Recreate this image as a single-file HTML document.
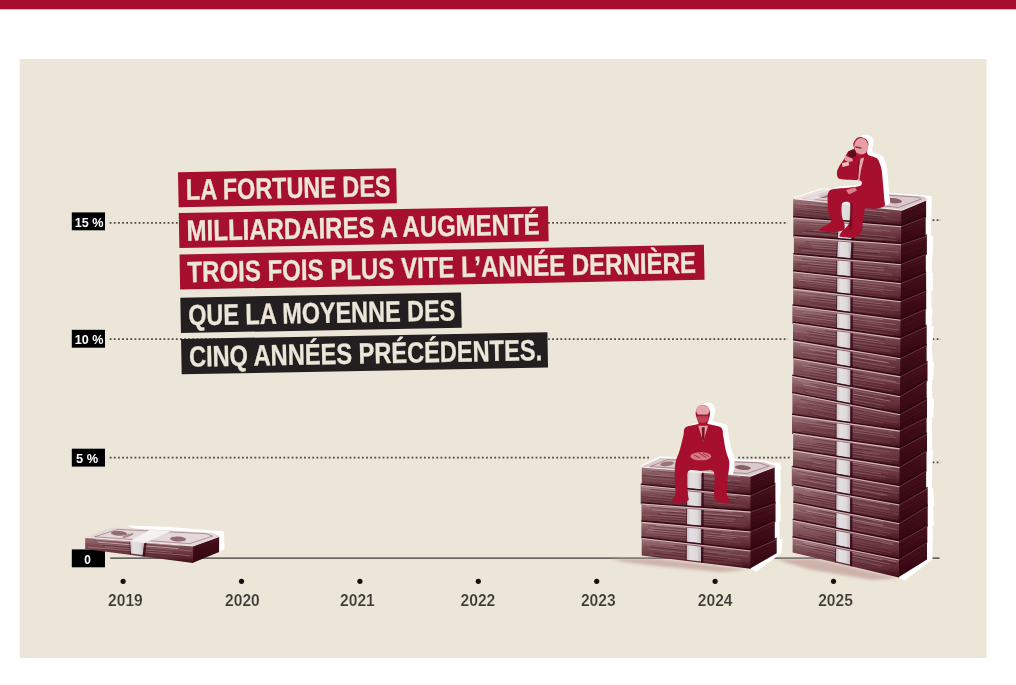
<!DOCTYPE html>
<html lang="fr"><head><meta charset="utf-8"><title>La fortune des milliardaires</title>
<style>html,body{margin:0;padding:0;background:#fff}svg{display:block}</style></head>
<body>
<svg width="1016" height="685" viewBox="0 0 1016 685" font-family="'Liberation Sans', Arial, sans-serif" font-weight="bold">
<defs>
<linearGradient id="gf" x1="0" y1="0" x2="0" y2="1"><stop offset="0" stop-color="#a17c80"/><stop offset="0.3" stop-color="#7e4e55"/><stop offset="0.75" stop-color="#612c36"/><stop offset="1" stop-color="#3a0a13"/></linearGradient>
<linearGradient id="gs" x1="0" y1="0" x2="0" y2="1"><stop offset="0" stop-color="#48111c"/><stop offset="0.35" stop-color="#3e0b16"/><stop offset="1" stop-color="#33060f"/></linearGradient>
<linearGradient id="gb" x1="0" y1="0" x2="1" y2="0"><stop offset="0" stop-color="#c9c2c6"/><stop offset="0.25" stop-color="#e3e0e2"/><stop offset="0.7" stop-color="#dedadc"/><stop offset="1" stop-color="#bdb4b9"/></linearGradient>
<clipPath id="c24"><polygon points="600,380 800,380 800,466 775.8,466.2 750.5,475.8 641,466.7 600,466"/></clipPath>
<clipPath id="c25"><polygon points="760,110 960,110 960,199 926.9,199.2 901.3,209.8 793.3,198.5 760,198"/></clipPath>
<filter id="blur" x="-20%" y="-50%" width="140%" height="200%"><feGaussianBlur stdDeviation="1.6"/></filter>
</defs>
<rect width="1016" height="685" fill="#fff"/>
<rect width="1016" height="9.3" fill="#A6102E"/>
<rect x="19.7" y="59" width="966.8" height="599" fill="#EBE6D7"/>
<line x1="109.7" y1="222.8" x2="788" y2="222.8" stroke="#4d4942" stroke-width="1.8" stroke-dasharray="1.8 2.335" stroke-dashoffset="0.00"/>
<line x1="930.3" y1="220.1" x2="941" y2="220.1" stroke="#4d4942" stroke-width="1.8" stroke-dasharray="1.8 2.335" stroke-dashoffset="1.87"/>
<line x1="109.7" y1="339.2" x2="788" y2="339.2" stroke="#4d4942" stroke-width="1.8" stroke-dasharray="1.8 2.335" stroke-dashoffset="0.00"/>
<line x1="930.3" y1="339.2" x2="941" y2="339.2" stroke="#4d4942" stroke-width="1.8" stroke-dasharray="1.8 2.335" stroke-dashoffset="1.87"/>
<line x1="109.7" y1="457.6" x2="649.5" y2="457.6" stroke="#4d4942" stroke-width="1.8" stroke-dasharray="1.8 2.335" stroke-dashoffset="0.00"/>
<line x1="736" y1="457.6" x2="790" y2="457.6" stroke="#4d4942" stroke-width="1.8" stroke-dasharray="1.8 2.335" stroke-dashoffset="1.91"/>
<line x1="930.3" y1="462.4" x2="941" y2="462.4" stroke="#4d4942" stroke-width="1.8" stroke-dasharray="1.8 2.335" stroke-dashoffset="1.87"/>
<line x1="110.2" y1="558.2" x2="939.5" y2="558.2" stroke="#3b3a37" stroke-width="1.3"/>
<rect x="71.8" y="212.4" width="33.2" height="17.9" fill="#000"/>
<text x="74.7" y="226.6" font-size="13.5" fill="#fff" textLength="28.8" lengthAdjust="spacingAndGlyphs">15 %</text>
<rect x="71.8" y="329.8" width="33.2" height="17.9" fill="#000"/>
<text x="74.7" y="344" font-size="13.5" fill="#fff" textLength="28.8" lengthAdjust="spacingAndGlyphs">10 %</text>
<rect x="71.8" y="448.7" width="33.2" height="17.9" fill="#000"/>
<text x="76" y="462.9" font-size="13.5" fill="#fff" textLength="22.1" lengthAdjust="spacingAndGlyphs">5 %</text>
<rect x="71.8" y="549.4" width="33.2" height="17.9" fill="#000"/>
<text x="84.3" y="563.6" font-size="13.5" fill="#fff" textLength="6.6" lengthAdjust="spacingAndGlyphs">0</text>
<circle cx="123.1" cy="581.3" r="2.6" fill="#111"/>
<text x="108.1" y="606.2" font-size="16.2" fill="#3b3a37" stroke="#EBE6D7" stroke-width="0.18" textLength="34.7" lengthAdjust="spacingAndGlyphs">2019</text>
<circle cx="241.5" cy="581.3" r="2.6" fill="#111"/>
<text x="225.1" y="606.2" font-size="16.2" fill="#3b3a37" stroke="#EBE6D7" stroke-width="0.18" textLength="34.7" lengthAdjust="spacingAndGlyphs">2020</text>
<circle cx="359.9" cy="581.3" r="2.6" fill="#111"/>
<text x="340.1" y="606.2" font-size="16.2" fill="#3b3a37" stroke="#EBE6D7" stroke-width="0.18" textLength="34.7" lengthAdjust="spacingAndGlyphs">2021</text>
<circle cx="478.3" cy="581.3" r="2.6" fill="#111"/>
<text x="460.6" y="606.2" font-size="16.2" fill="#3b3a37" stroke="#EBE6D7" stroke-width="0.18" textLength="34.7" lengthAdjust="spacingAndGlyphs">2022</text>
<circle cx="596.7" cy="581.3" r="2.6" fill="#111"/>
<text x="580.9" y="606.2" font-size="16.2" fill="#3b3a37" stroke="#EBE6D7" stroke-width="0.18" textLength="34.7" lengthAdjust="spacingAndGlyphs">2023</text>
<circle cx="715.1" cy="581.3" r="2.6" fill="#111"/>
<text x="697.8" y="606.2" font-size="16.2" fill="#3b3a37" stroke="#EBE6D7" stroke-width="0.18" textLength="34.7" lengthAdjust="spacingAndGlyphs">2024</text>
<circle cx="833.5" cy="581.3" r="2.6" fill="#111"/>
<text x="818.2" y="606.2" font-size="16.2" fill="#3b3a37" stroke="#EBE6D7" stroke-width="0.18" textLength="34.7" lengthAdjust="spacingAndGlyphs">2025</text>
<g transform="rotate(-1.05 178 172.2)">
<rect x="178" y="172.2" width="218.2" height="35.0" fill="#A6102E"/>
<text x="185.6" y="200" font-size="29.3" fill="#EBE6D7" stroke="#EBE6D7" stroke-width="0.35" textLength="204.6" lengthAdjust="spacingAndGlyphs">LA FORTUNE DES</text>
<rect x="178" y="213.1" width="369.3" height="35.0" fill="#A6102E"/>
<text x="185.6" y="240.9" font-size="29.3" fill="#EBE6D7" stroke="#EBE6D7" stroke-width="0.35" textLength="353" lengthAdjust="spacingAndGlyphs">MILLIARDAIRES A AUGMENTÉ</text>
<rect x="178" y="254.5" width="524.5" height="35.0" fill="#A6102E"/>
<text x="185.6" y="282.3" font-size="29.3" fill="#EBE6D7" stroke="#EBE6D7" stroke-width="0.35" textLength="508.6" lengthAdjust="spacingAndGlyphs">TROIS FOIS PLUS VITE L’ANNÉE DERNIÈRE</text>
<rect x="178" y="297.7" width="280.8" height="35.3" fill="#231F20"/>
<text x="185.6" y="325.5" font-size="29.3" fill="#EBE6D7" stroke="#EBE6D7" stroke-width="0.35" textLength="267" lengthAdjust="spacingAndGlyphs">QUE LA MOYENNE DES</text>
<rect x="178" y="339" width="366.4" height="35.3" fill="#231F20"/>
<text x="185.6" y="366.8" font-size="29.3" fill="#EBE6D7" stroke="#EBE6D7" stroke-width="0.35" textLength="353.2" lengthAdjust="spacingAndGlyphs">CINQ ANNÉES PRÉCÉDENTES.</text>
</g>
<polygon points="775,558.8 815,558.8 899,578.3 872,580 810,569.5 786,562.5" fill="#c6a6a0" opacity="0.8" filter="url(#blur)"/>
<polygon points="793,197.6 821.5,188.2 924.5,195.3 931.5,197 931.5,202 927,199.5 822,190.5 794,199.5" fill="#fff"/>
<polygon points="916.9,195.7 931.7,195.7 931.5,216.8 931.3,216.8 930.9,235.8 933.4,235.8 932.7,253.8 932.5,253.8 931.6,272.7 933,272.7 932.8,290.7 931.2,290.7 931.6,308.7 932.5,308.7 931.6,326.1 933.6,326.1 932.5,345.1 931.7,345.1 932.8,362.1 934.1,362.1 933.1,380.1 931.9,380.1 932.4,399.1 933.9,399.1 933.5,417.1 931.9,417.1 932.1,433.8 932.2,433.8 932.1,450.7 933.1,450.7 931.9,470.6 932.2,470.6 932,488.2 933.1,488.2 934.2,505.7 933,505.7 934,525.6 932.6,525.6 933.2,542 932.4,542 932.5,559.5 904.8,580.4 898.8,577.4 901.3,209.8" fill="#fff"/>
<polygon points="900.6,209.8 926.1,199.2 926.1,217.6 900.5,227.1" fill="url(#gs)"/>
<polygon points="793.2,198.5 901.3,209.8 901.2,227.1 793.2,218.3" fill="url(#gf)"/>
<line x1="810.6" y1="203.9" x2="886.3" y2="212.4" stroke="#f0d8d8" stroke-width="0.7" opacity="0.20"/>
<line x1="825.5" y1="206.6" x2="884.1" y2="212.7" stroke="#2f0610" stroke-width="0.7" opacity="0.37"/>
<line x1="796.4" y1="203.4" x2="889.2" y2="212.4" stroke="#f0d8d8" stroke-width="0.7" opacity="0.31"/>
<line x1="805.7" y1="205.5" x2="861.3" y2="211.3" stroke="#2f0610" stroke-width="0.7" opacity="0.26"/>
<line x1="793.5" y1="206.9" x2="887.6" y2="216.9" stroke="#f0d8d8" stroke-width="0.9" opacity="0.14"/>
<line x1="808.9" y1="209.6" x2="882.9" y2="217.4" stroke="#2f0610" stroke-width="0.7" opacity="0.46"/>
<line x1="796.5" y1="209.1" x2="899.3" y2="220.3" stroke="#f0d8d8" stroke-width="0.6" opacity="0.16"/>
<line x1="798.3" y1="210.4" x2="885.3" y2="219.5" stroke="#2f0610" stroke-width="0.7" opacity="0.37"/>
<line x1="801.6" y1="213.3" x2="890.1" y2="222" stroke="#f0d8d8" stroke-width="0.6" opacity="0.09"/>
<line x1="794.4" y1="213.7" x2="899.7" y2="224.7" stroke="#2f0610" stroke-width="0.7" opacity="0.27"/>
<line x1="798.7" y1="215.8" x2="897.5" y2="226.2" stroke="#f0d8d8" stroke-width="0.6" opacity="0.12"/>
<line x1="823.3" y1="219.4" x2="900.3" y2="227.5" stroke="#2f0610" stroke-width="0.7" opacity="0.24"/>
<line x1="901.3" y1="213.6" x2="926.1" y2="203" stroke="#e8c8c8" stroke-width="0.6" opacity="0.07"/>
<line x1="901.3" y1="217.6" x2="926.1" y2="207" stroke="#e8c8c8" stroke-width="0.6" opacity="0.03"/>
<line x1="901.3" y1="220.7" x2="926.1" y2="210.1" stroke="#e8c8c8" stroke-width="0.6" opacity="0.06"/>
<line x1="901.3" y1="225.5" x2="926.1" y2="214.9" stroke="#e8c8c8" stroke-width="0.6" opacity="0.01"/>
<polygon points="839.2,203.3 853.5,204.8 852.5,220.9 838.5,219.8" fill="url(#gb)"/>
<polygon points="853.5,204.8 855.8,205 854.8,222.5 852.5,222.3" fill="#35060f" opacity="0.8"/>
<polygon points="838.2,203.2 839.2,203.3 838.5,221.2 837.5,221.1" fill="#35060f" opacity="0.5"/>
<polygon points="900.5,226.3 925.7,216.8 925.7,236.6 900.3,245.1" fill="url(#gs)"/>
<polygon points="793.3,217.5 901.2,226.3 901,245.1 793.3,237.2" fill="url(#gf)"/>
<line x1="798.7" y1="220.5" x2="880.6" y2="226.8" stroke="#f0d8d8" stroke-width="0.6" opacity="0.31"/>
<line x1="796.3" y1="221.4" x2="864" y2="226.9" stroke="#2f0610" stroke-width="0.7" opacity="0.34"/>
<line x1="809.1" y1="223.9" x2="890.9" y2="231.2" stroke="#f0d8d8" stroke-width="0.6" opacity="0.30"/>
<line x1="808.7" y1="224.9" x2="873.5" y2="230.2" stroke="#2f0610" stroke-width="0.7" opacity="0.29"/>
<line x1="806.2" y1="225.8" x2="881.2" y2="231.3" stroke="#f0d8d8" stroke-width="0.6" opacity="0.20"/>
<line x1="825.7" y1="228.5" x2="861.3" y2="231.4" stroke="#2f0610" stroke-width="0.7" opacity="0.36"/>
<line x1="812.7" y1="230.3" x2="895.5" y2="237.4" stroke="#f0d8d8" stroke-width="0.7" opacity="0.27"/>
<line x1="804.7" y1="230.8" x2="887.6" y2="237.5" stroke="#2f0610" stroke-width="0.7" opacity="0.47"/>
<line x1="802.3" y1="232.4" x2="896.6" y2="240.6" stroke="#f0d8d8" stroke-width="0.9" opacity="0.19"/>
<line x1="814.8" y1="234.5" x2="874.4" y2="239.4" stroke="#2f0610" stroke-width="0.7" opacity="0.20"/>
<line x1="795.3" y1="233.1" x2="882.1" y2="239.8" stroke="#f0d8d8" stroke-width="0.7" opacity="0.15"/>
<line x1="805.9" y1="235" x2="889.7" y2="241.9" stroke="#2f0610" stroke-width="0.7" opacity="0.37"/>
<line x1="901.2" y1="230" x2="925.7" y2="220.5" stroke="#e8c8c8" stroke-width="0.6" opacity="0.08"/>
<line x1="901.2" y1="233.1" x2="925.7" y2="223.6" stroke="#e8c8c8" stroke-width="0.6" opacity="0.06"/>
<line x1="901.2" y1="236.8" x2="925.7" y2="227.3" stroke="#e8c8c8" stroke-width="0.6" opacity="0.04"/>
<line x1="901.2" y1="241.4" x2="925.7" y2="231.9" stroke="#e8c8c8" stroke-width="0.6" opacity="0.02"/>
<polyline points="793.3,216.7 901.2,225.5 925.7,216" fill="none" stroke="#2a0510" stroke-width="1.5" opacity="0.85"/>
<polyline points="793.3,218 901.2,226.8" fill="none" stroke="#e2c3c5" stroke-width="1.1" opacity="0.9"/>
<polyline points="901.2,226.8 925.7,217.3" fill="none" stroke="#a87880" stroke-width="0.8" opacity="0.45"/>
<polygon points="838.5,223.1 852.5,224.2 851.4,239.3 837.8,238.3" fill="url(#gb)"/>
<polygon points="852.5,224.2 854.8,224.4 853.7,240.8 851.4,240.7" fill="#35060f" opacity="0.8"/>
<polygon points="837.5,223 838.5,223.1 837.8,239.7 836.8,239.6" fill="#35060f" opacity="0.5"/>
<polygon points="900.3,244.3 926.9,235.8 926.9,254.6 900.2,265" fill="url(#gs)"/>
<polygon points="793.9,236.4 901,244.3 900.9,265 793.9,255.3" fill="url(#gf)"/>
<line x1="804.6" y1="240.1" x2="892.8" y2="247.2" stroke="#f0d8d8" stroke-width="0.6" opacity="0.22"/>
<line x1="805.8" y1="241.3" x2="864.3" y2="245.6" stroke="#2f0610" stroke-width="0.7" opacity="0.38"/>
<line x1="810.1" y1="242.8" x2="887" y2="249.1" stroke="#f0d8d8" stroke-width="0.6" opacity="0.27"/>
<line x1="804.4" y1="243.5" x2="886.7" y2="249.5" stroke="#2f0610" stroke-width="0.7" opacity="0.26"/>
<line x1="811.2" y1="245.3" x2="899.2" y2="252.3" stroke="#f0d8d8" stroke-width="0.9" opacity="0.21"/>
<line x1="823.5" y1="247.3" x2="867.2" y2="250.5" stroke="#2f0610" stroke-width="0.7" opacity="0.24"/>
<line x1="813.1" y1="247.9" x2="880.5" y2="252.2" stroke="#f0d8d8" stroke-width="0.6" opacity="0.33"/>
<line x1="797.6" y1="247.8" x2="878.4" y2="253.8" stroke="#2f0610" stroke-width="0.7" opacity="0.48"/>
<line x1="802.1" y1="250.5" x2="890.8" y2="257.3" stroke="#f0d8d8" stroke-width="0.9" opacity="0.22"/>
<line x1="808.5" y1="252.1" x2="861.4" y2="256" stroke="#2f0610" stroke-width="0.7" opacity="0.21"/>
<line x1="794.8" y1="252.7" x2="894.8" y2="260.1" stroke="#f0d8d8" stroke-width="0.9" opacity="0.12"/>
<line x1="794.6" y1="253.7" x2="864" y2="258.9" stroke="#2f0610" stroke-width="0.7" opacity="0.34"/>
<line x1="901" y1="247.1" x2="926.9" y2="238.6" stroke="#e8c8c8" stroke-width="0.6" opacity="0.08"/>
<line x1="901" y1="251.1" x2="926.9" y2="242.6" stroke="#e8c8c8" stroke-width="0.6" opacity="0.03"/>
<line x1="901" y1="254.3" x2="926.9" y2="245.8" stroke="#e8c8c8" stroke-width="0.6" opacity="0.05"/>
<line x1="901" y1="258.7" x2="926.9" y2="250.2" stroke="#e8c8c8" stroke-width="0.6" opacity="0.03"/>
<polyline points="793.9,235.6 901,243.5 926.9,235" fill="none" stroke="#2a0510" stroke-width="1.5" opacity="0.85"/>
<polyline points="793.9,236.9 901,244.8" fill="none" stroke="#e2c3c5" stroke-width="1.1" opacity="0.9"/>
<polyline points="901,244.8 926.9,236.3" fill="none" stroke="#a87880" stroke-width="0.8" opacity="0.45"/>
<polygon points="837.8,241.6 851.4,242.6 850.6,258.3 837.2,257.1" fill="url(#gb)"/>
<polygon points="851.4,242.6 853.7,242.7 852.9,259.9 850.6,259.7" fill="#35060f" opacity="0.8"/>
<polygon points="836.8,241.5 837.8,241.6 837.2,258.5 836.2,258.4" fill="#35060f" opacity="0.5"/>
<polygon points="900.2,264.2 925.8,253.8 925.8,273.5 900.1,284" fill="url(#gs)"/>
<polygon points="793.1,254.5 900.9,264.2 900.8,284 793.1,272.3" fill="url(#gf)"/>
<line x1="810.5" y1="258.8" x2="900" y2="267.1" stroke="#f0d8d8" stroke-width="0.7" opacity="0.20"/>
<line x1="801.4" y1="259" x2="888.6" y2="266.9" stroke="#2f0610" stroke-width="0.7" opacity="0.43"/>
<line x1="793.9" y1="259.5" x2="884.2" y2="268" stroke="#f0d8d8" stroke-width="0.9" opacity="0.28"/>
<line x1="809.3" y1="262" x2="900.8" y2="270.2" stroke="#2f0610" stroke-width="0.7" opacity="0.25"/>
<line x1="808.2" y1="263.7" x2="884.2" y2="270.4" stroke="#f0d8d8" stroke-width="0.7" opacity="0.33"/>
<line x1="797.3" y1="263.9" x2="877.3" y2="271.1" stroke="#2f0610" stroke-width="0.7" opacity="0.39"/>
<line x1="801.2" y1="265.6" x2="891.6" y2="274.3" stroke="#f0d8d8" stroke-width="0.7" opacity="0.27"/>
<line x1="808.1" y1="267.4" x2="885.9" y2="274.4" stroke="#2f0610" stroke-width="0.7" opacity="0.26"/>
<line x1="810.7" y1="268.6" x2="893.2" y2="276.3" stroke="#f0d8d8" stroke-width="0.7" opacity="0.13"/>
<line x1="824.8" y1="271" x2="899.9" y2="277.7" stroke="#2f0610" stroke-width="0.7" opacity="0.36"/>
<line x1="800" y1="270.2" x2="899" y2="279.6" stroke="#f0d8d8" stroke-width="0.6" opacity="0.13"/>
<line x1="794.3" y1="270.8" x2="872.5" y2="277.8" stroke="#2f0610" stroke-width="0.7" opacity="0.33"/>
<line x1="900.9" y1="267.2" x2="925.8" y2="256.8" stroke="#e8c8c8" stroke-width="0.6" opacity="0.08"/>
<line x1="900.9" y1="270.5" x2="925.8" y2="260.1" stroke="#e8c8c8" stroke-width="0.6" opacity="0.07"/>
<line x1="900.9" y1="274.3" x2="925.8" y2="263.9" stroke="#e8c8c8" stroke-width="0.6" opacity="0.02"/>
<line x1="900.9" y1="277.9" x2="925.8" y2="267.5" stroke="#e8c8c8" stroke-width="0.6" opacity="0.03"/>
<polyline points="793.1,253.7 900.9,263.4 925.8,253" fill="none" stroke="#2a0510" stroke-width="1.5" opacity="0.85"/>
<polyline points="793.1,255 900.9,264.7" fill="none" stroke="#e2c3c5" stroke-width="1.1" opacity="0.9"/>
<polyline points="900.9,264.7 925.8,254.3" fill="none" stroke="#a87880" stroke-width="0.8" opacity="0.45"/>
<polygon points="837.2,260.4 850.6,261.6 850.6,276.3 837.1,274.9" fill="url(#gb)"/>
<polygon points="850.6,261.6 852.9,261.8 852.9,278 850.6,277.7" fill="#35060f" opacity="0.8"/>
<polygon points="836.2,260.3 837.2,260.4 837.1,276.3 836.1,276.2" fill="#35060f" opacity="0.5"/>
<polygon points="900.1,283.2 926.1,272.7 926.1,291.5 900,302" fill="url(#gs)"/>
<polygon points="793.1,271.5 900.8,283.2 900.7,302 793.1,289.4" fill="url(#gf)"/>
<line x1="803.2" y1="275.8" x2="900.8" y2="286.9" stroke="#f0d8d8" stroke-width="0.9" opacity="0.29"/>
<line x1="815.4" y1="278.2" x2="898.4" y2="287.2" stroke="#2f0610" stroke-width="0.7" opacity="0.35"/>
<line x1="795" y1="277.4" x2="884" y2="287.1" stroke="#f0d8d8" stroke-width="0.9" opacity="0.20"/>
<line x1="811.2" y1="280.2" x2="864.8" y2="286" stroke="#2f0610" stroke-width="0.7" opacity="0.35"/>
<line x1="798.6" y1="280.1" x2="893.7" y2="291.1" stroke="#f0d8d8" stroke-width="0.9" opacity="0.33"/>
<line x1="799.8" y1="281.4" x2="894.4" y2="291.6" stroke="#2f0610" stroke-width="0.7" opacity="0.49"/>
<line x1="805.4" y1="282.7" x2="883.6" y2="291.2" stroke="#f0d8d8" stroke-width="0.9" opacity="0.21"/>
<line x1="805.3" y1="283.7" x2="880.9" y2="292" stroke="#2f0610" stroke-width="0.7" opacity="0.21"/>
<line x1="804.8" y1="285.7" x2="900.6" y2="295.6" stroke="#f0d8d8" stroke-width="0.6" opacity="0.10"/>
<line x1="795.2" y1="285.8" x2="880.9" y2="295.1" stroke="#2f0610" stroke-width="0.7" opacity="0.32"/>
<line x1="813" y1="289.1" x2="885" y2="296.9" stroke="#f0d8d8" stroke-width="0.7" opacity="0.09"/>
<line x1="822.2" y1="291.2" x2="898" y2="299.4" stroke="#2f0610" stroke-width="0.7" opacity="0.48"/>
<line x1="900.8" y1="286.7" x2="926.1" y2="276.2" stroke="#e8c8c8" stroke-width="0.6" opacity="0.03"/>
<line x1="900.8" y1="289.9" x2="926.1" y2="279.4" stroke="#e8c8c8" stroke-width="0.6" opacity="0.02"/>
<line x1="900.8" y1="293" x2="926.1" y2="282.5" stroke="#e8c8c8" stroke-width="0.6" opacity="0.05"/>
<line x1="900.8" y1="297.7" x2="926.1" y2="287.2" stroke="#e8c8c8" stroke-width="0.6" opacity="0.01"/>
<polyline points="793.1,270.7 900.8,282.4 926.1,271.9" fill="none" stroke="#2a0510" stroke-width="1.5" opacity="0.85"/>
<polyline points="793.1,272 900.8,283.7" fill="none" stroke="#e2c3c5" stroke-width="1.1" opacity="0.9"/>
<polyline points="900.8,283.7 926.1,273.2" fill="none" stroke="#a87880" stroke-width="0.8" opacity="0.45"/>
<polygon points="837.1,278.2 850.6,279.6 850.5,293.9 837.1,292.4" fill="url(#gb)"/>
<polygon points="850.6,279.6 852.9,279.9 852.8,295.6 850.5,295.3" fill="#35060f" opacity="0.8"/>
<polygon points="836.1,278.1 837.1,278.2 837.1,293.8 836.1,293.6" fill="#35060f" opacity="0.5"/>
<polygon points="900,301.2 926.2,290.7 926.2,309.5 899.8,320.6" fill="url(#gs)"/>
<polygon points="793.2,288.6 900.7,301.2 900.5,320.6 793.2,306.5" fill="url(#gf)"/>
<line x1="793.5" y1="290.5" x2="885.3" y2="301.6" stroke="#f0d8d8" stroke-width="0.7" opacity="0.22"/>
<line x1="796.6" y1="292" x2="889.1" y2="302.8" stroke="#2f0610" stroke-width="0.7" opacity="0.24"/>
<line x1="798.6" y1="294.1" x2="883.4" y2="304.1" stroke="#f0d8d8" stroke-width="0.7" opacity="0.25"/>
<line x1="813.6" y1="297" x2="893.1" y2="306.3" stroke="#2f0610" stroke-width="0.7" opacity="0.38"/>
<line x1="811.8" y1="298.2" x2="890.6" y2="307" stroke="#f0d8d8" stroke-width="0.9" opacity="0.17"/>
<line x1="812.9" y1="299.4" x2="894.5" y2="309" stroke="#2f0610" stroke-width="0.7" opacity="0.27"/>
<line x1="810.6" y1="300.8" x2="898.6" y2="310.9" stroke="#f0d8d8" stroke-width="0.6" opacity="0.17"/>
<line x1="800.2" y1="300.7" x2="900.6" y2="312.5" stroke="#2f0610" stroke-width="0.7" opacity="0.47"/>
<line x1="798.4" y1="300.8" x2="894.8" y2="311.8" stroke="#f0d8d8" stroke-width="0.7" opacity="0.11"/>
<line x1="810.7" y1="303.3" x2="888" y2="312.4" stroke="#2f0610" stroke-width="0.7" opacity="0.26"/>
<line x1="810.4" y1="305.5" x2="881.2" y2="313.9" stroke="#f0d8d8" stroke-width="0.7" opacity="0.13"/>
<line x1="796.9" y1="305" x2="879.4" y2="314.7" stroke="#2f0610" stroke-width="0.7" opacity="0.43"/>
<line x1="900.7" y1="304.6" x2="926.2" y2="294.1" stroke="#e8c8c8" stroke-width="0.6" opacity="0.07"/>
<line x1="900.7" y1="307.5" x2="926.2" y2="297" stroke="#e8c8c8" stroke-width="0.6" opacity="0.03"/>
<line x1="900.7" y1="310.8" x2="926.2" y2="300.3" stroke="#e8c8c8" stroke-width="0.6" opacity="0.02"/>
<line x1="900.7" y1="315" x2="926.2" y2="304.5" stroke="#e8c8c8" stroke-width="0.6" opacity="0.03"/>
<polyline points="793.2,287.8 900.7,300.4 926.2,289.9" fill="none" stroke="#2a0510" stroke-width="1.5" opacity="0.85"/>
<polyline points="793.2,289.1 900.7,301.7" fill="none" stroke="#e2c3c5" stroke-width="1.1" opacity="0.9"/>
<polyline points="900.7,301.7 926.2,291.2" fill="none" stroke="#a87880" stroke-width="0.8" opacity="0.45"/>
<polygon points="837.1,295.7 850.5,297.2 850.5,311.8 837,310.1" fill="url(#gb)"/>
<polygon points="850.5,297.2 852.8,297.5 852.8,313.5 850.5,313.2" fill="#35060f" opacity="0.8"/>
<polygon points="836.1,295.5 837.1,295.7 837,311.5 836,311.3" fill="#35060f" opacity="0.5"/>
<polygon points="899.8,319.8 925.7,308.7 925.7,326.9 899.7,339.2" fill="url(#gs)"/>
<polygon points="792.4,305.7 900.5,319.8 900.4,339.2 792.4,323.8" fill="url(#gf)"/>
<line x1="795.6" y1="308.7" x2="882.9" y2="319.7" stroke="#f0d8d8" stroke-width="0.7" opacity="0.40"/>
<line x1="822.5" y1="313.3" x2="861.4" y2="318.4" stroke="#2f0610" stroke-width="0.7" opacity="0.22"/>
<line x1="802.4" y1="312.7" x2="895.5" y2="324.6" stroke="#f0d8d8" stroke-width="0.9" opacity="0.25"/>
<line x1="803.9" y1="314" x2="866.4" y2="322.2" stroke="#2f0610" stroke-width="0.7" opacity="0.31"/>
<line x1="793.3" y1="313.5" x2="883.3" y2="325.1" stroke="#f0d8d8" stroke-width="0.7" opacity="0.20"/>
<line x1="805.6" y1="316.2" x2="865.7" y2="324" stroke="#2f0610" stroke-width="0.7" opacity="0.25"/>
<line x1="792.8" y1="315.7" x2="898.2" y2="329.8" stroke="#f0d8d8" stroke-width="0.9" opacity="0.26"/>
<line x1="822.9" y1="320.7" x2="881.9" y2="328.4" stroke="#2f0610" stroke-width="0.7" opacity="0.26"/>
<line x1="799.8" y1="319.2" x2="895.4" y2="331.3" stroke="#f0d8d8" stroke-width="0.9" opacity="0.11"/>
<line x1="817.7" y1="322.6" x2="892.5" y2="332.4" stroke="#2f0610" stroke-width="0.7" opacity="0.32"/>
<line x1="811.5" y1="323.7" x2="893.9" y2="334.8" stroke="#f0d8d8" stroke-width="0.7" opacity="0.19"/>
<line x1="799.1" y1="323.2" x2="865.3" y2="331.8" stroke="#2f0610" stroke-width="0.7" opacity="0.44"/>
<line x1="900.5" y1="322.9" x2="925.7" y2="311.8" stroke="#e8c8c8" stroke-width="0.6" opacity="0.03"/>
<line x1="900.5" y1="327.4" x2="925.7" y2="316.3" stroke="#e8c8c8" stroke-width="0.6" opacity="0.07"/>
<line x1="900.5" y1="330.9" x2="925.7" y2="319.8" stroke="#e8c8c8" stroke-width="0.6" opacity="0.02"/>
<line x1="900.5" y1="333.2" x2="925.7" y2="322.1" stroke="#e8c8c8" stroke-width="0.6" opacity="0.04"/>
<polyline points="792.4,304.9 900.5,319 925.7,307.9" fill="none" stroke="#2a0510" stroke-width="1.5" opacity="0.85"/>
<polyline points="792.4,306.2 900.5,320.3" fill="none" stroke="#e2c3c5" stroke-width="1.1" opacity="0.9"/>
<polyline points="900.5,320.3 925.7,309.2" fill="none" stroke="#a87880" stroke-width="0.8" opacity="0.45"/>
<polygon points="837,313.4 850.5,315.1 850.5,329.8 836.9,327.9" fill="url(#gb)"/>
<polygon points="850.5,315.1 852.8,315.4 852.8,331.6 850.5,331.2" fill="#35060f" opacity="0.8"/>
<polygon points="836,313.2 837,313.4 836.9,329.3 835.9,329.2" fill="#35060f" opacity="0.5"/>
<polygon points="899.7,338.4 926.7,326.1 926.7,345.9 899.6,359.1" fill="url(#gs)"/>
<polygon points="793,323 900.4,338.4 900.3,359.1 793,341.4" fill="url(#gf)"/>
<line x1="797.6" y1="325.8" x2="887.7" y2="338.3" stroke="#f0d8d8" stroke-width="0.9" opacity="0.16"/>
<line x1="825.2" y1="330.9" x2="885" y2="339.5" stroke="#2f0610" stroke-width="0.7" opacity="0.41"/>
<line x1="814" y1="331.5" x2="879.4" y2="341" stroke="#f0d8d8" stroke-width="0.7" opacity="0.33"/>
<line x1="807.3" y1="331.6" x2="879.1" y2="341.9" stroke="#2f0610" stroke-width="0.7" opacity="0.43"/>
<line x1="793.2" y1="330.8" x2="884.5" y2="343.6" stroke="#f0d8d8" stroke-width="0.9" opacity="0.20"/>
<line x1="809.4" y1="334.2" x2="899" y2="347.1" stroke="#2f0610" stroke-width="0.7" opacity="0.37"/>
<line x1="806.7" y1="335.9" x2="896.3" y2="348.1" stroke="#f0d8d8" stroke-width="0.6" opacity="0.23"/>
<line x1="805.4" y1="336.8" x2="897.8" y2="350.1" stroke="#2f0610" stroke-width="0.7" opacity="0.32"/>
<line x1="811.4" y1="339" x2="890.6" y2="350.5" stroke="#f0d8d8" stroke-width="0.7" opacity="0.16"/>
<line x1="806.5" y1="339.4" x2="880.1" y2="350" stroke="#2f0610" stroke-width="0.7" opacity="0.38"/>
<line x1="799.1" y1="338.7" x2="893" y2="352.3" stroke="#f0d8d8" stroke-width="0.9" opacity="0.12"/>
<line x1="817.1" y1="342.4" x2="858.6" y2="348.4" stroke="#2f0610" stroke-width="0.7" opacity="0.43"/>
<line x1="900.4" y1="342.1" x2="926.7" y2="329.8" stroke="#e8c8c8" stroke-width="0.6" opacity="0.06"/>
<line x1="900.4" y1="345.3" x2="926.7" y2="333" stroke="#e8c8c8" stroke-width="0.6" opacity="0.06"/>
<line x1="900.4" y1="348.2" x2="926.7" y2="335.9" stroke="#e8c8c8" stroke-width="0.6" opacity="0.03"/>
<line x1="900.4" y1="352.3" x2="926.7" y2="340" stroke="#e8c8c8" stroke-width="0.6" opacity="0.03"/>
<polyline points="793,322.2 900.4,337.6 926.7,325.3" fill="none" stroke="#2a0510" stroke-width="1.5" opacity="0.85"/>
<polyline points="793,323.5 900.4,338.9" fill="none" stroke="#e2c3c5" stroke-width="1.1" opacity="0.9"/>
<polyline points="900.4,338.9 926.7,326.6" fill="none" stroke="#a87880" stroke-width="0.8" opacity="0.45"/>
<polygon points="836.9,331.2 850.5,333.1 850.4,348.7 836.8,346.4" fill="url(#gb)"/>
<polygon points="850.5,333.1 852.8,333.5 852.7,350.5 850.4,350.1" fill="#35060f" opacity="0.8"/>
<polygon points="835.9,331.1 836.9,331.2 836.8,347.8 835.8,347.7" fill="#35060f" opacity="0.5"/>
<polygon points="899.6,358.3 926.6,345.1 926.6,362.9 899.5,377.2" fill="url(#gs)"/>
<polygon points="793.1,340.6 900.3,358.3 900.2,377.2 793.1,359.1" fill="url(#gf)"/>
<line x1="800" y1="344.7" x2="896" y2="360.1" stroke="#f0d8d8" stroke-width="0.7" opacity="0.36"/>
<line x1="824.4" y1="349.8" x2="867.9" y2="357" stroke="#2f0610" stroke-width="0.7" opacity="0.36"/>
<line x1="808.6" y1="349" x2="888.9" y2="362.9" stroke="#f0d8d8" stroke-width="0.9" opacity="0.35"/>
<line x1="815.9" y1="351.3" x2="859.6" y2="358.5" stroke="#2f0610" stroke-width="0.7" opacity="0.33"/>
<line x1="811.6" y1="350.6" x2="886.5" y2="362.4" stroke="#f0d8d8" stroke-width="0.6" opacity="0.21"/>
<line x1="814.6" y1="352.2" x2="877" y2="362.5" stroke="#2f0610" stroke-width="0.7" opacity="0.28"/>
<line x1="802.1" y1="352.3" x2="895.5" y2="367.8" stroke="#f0d8d8" stroke-width="0.7" opacity="0.33"/>
<line x1="816.8" y1="355.9" x2="867.7" y2="364.3" stroke="#2f0610" stroke-width="0.7" opacity="0.23"/>
<line x1="810" y1="356.7" x2="892.3" y2="370.1" stroke="#f0d8d8" stroke-width="0.9" opacity="0.13"/>
<line x1="816.5" y1="358.9" x2="887.4" y2="370.6" stroke="#2f0610" stroke-width="0.7" opacity="0.26"/>
<line x1="798.3" y1="356.2" x2="899.3" y2="372.9" stroke="#f0d8d8" stroke-width="0.6" opacity="0.19"/>
<line x1="821.4" y1="361.1" x2="859.1" y2="367.4" stroke="#2f0610" stroke-width="0.7" opacity="0.22"/>
<line x1="900.3" y1="361.4" x2="926.6" y2="348.2" stroke="#e8c8c8" stroke-width="0.6" opacity="0.05"/>
<line x1="900.3" y1="365.6" x2="926.6" y2="352.4" stroke="#e8c8c8" stroke-width="0.6" opacity="0.03"/>
<line x1="900.3" y1="369" x2="926.6" y2="355.8" stroke="#e8c8c8" stroke-width="0.6" opacity="0.02"/>
<line x1="900.3" y1="371.7" x2="926.6" y2="358.5" stroke="#e8c8c8" stroke-width="0.6" opacity="0.04"/>
<polyline points="793.1,339.8 900.3,357.5 926.6,344.3" fill="none" stroke="#2a0510" stroke-width="1.5" opacity="0.85"/>
<polyline points="793.1,341.1 900.3,358.8" fill="none" stroke="#e2c3c5" stroke-width="1.1" opacity="0.9"/>
<polyline points="900.3,358.8 926.6,345.6" fill="none" stroke="#a87880" stroke-width="0.8" opacity="0.45"/>
<polygon points="836.8,349.7 850.4,352 850.4,366.6 836.8,364.3" fill="url(#gb)"/>
<polygon points="850.4,352 852.7,352.4 852.7,368.4 850.4,368" fill="#35060f" opacity="0.8"/>
<polygon points="835.8,349.6 836.8,349.7 836.8,365.7 835.8,365.5" fill="#35060f" opacity="0.5"/>
<polygon points="899.5,376.4 927.5,362.1 927.5,380.9 899.3,397.1" fill="url(#gs)"/>
<polygon points="793.4,358.3 900.2,376.4 900,397.1 793.4,376.8" fill="url(#gf)"/>
<line x1="806.9" y1="363.2" x2="886.8" y2="376.7" stroke="#f0d8d8" stroke-width="0.7" opacity="0.20"/>
<line x1="809.2" y1="364.7" x2="863.2" y2="373.8" stroke="#2f0610" stroke-width="0.7" opacity="0.46"/>
<line x1="803" y1="365.5" x2="896.4" y2="381.8" stroke="#f0d8d8" stroke-width="0.7" opacity="0.34"/>
<line x1="807" y1="367.3" x2="868.5" y2="377.7" stroke="#2f0610" stroke-width="0.7" opacity="0.44"/>
<line x1="807.4" y1="368" x2="899.9" y2="383.5" stroke="#f0d8d8" stroke-width="0.9" opacity="0.26"/>
<line x1="819.9" y1="371.2" x2="865.3" y2="378.9" stroke="#2f0610" stroke-width="0.7" opacity="0.40"/>
<line x1="803.3" y1="370.2" x2="885.7" y2="384.3" stroke="#f0d8d8" stroke-width="0.9" opacity="0.20"/>
<line x1="808.9" y1="372.3" x2="886.7" y2="385.5" stroke="#2f0610" stroke-width="0.7" opacity="0.29"/>
<line x1="795" y1="371.7" x2="883.4" y2="386.9" stroke="#f0d8d8" stroke-width="0.7" opacity="0.10"/>
<line x1="809.2" y1="375.2" x2="890.1" y2="388.9" stroke="#2f0610" stroke-width="0.7" opacity="0.30"/>
<line x1="798.1" y1="374.9" x2="892.9" y2="390.8" stroke="#f0d8d8" stroke-width="0.7" opacity="0.22"/>
<line x1="816.1" y1="379.1" x2="881.8" y2="390.2" stroke="#2f0610" stroke-width="0.7" opacity="0.48"/>
<line x1="900.2" y1="380.7" x2="927.5" y2="366.4" stroke="#e8c8c8" stroke-width="0.6" opacity="0.08"/>
<line x1="900.2" y1="383.4" x2="927.5" y2="369.1" stroke="#e8c8c8" stroke-width="0.6" opacity="0.06"/>
<line x1="900.2" y1="386.7" x2="927.5" y2="372.4" stroke="#e8c8c8" stroke-width="0.6" opacity="0.03"/>
<line x1="900.2" y1="390.4" x2="927.5" y2="376.1" stroke="#e8c8c8" stroke-width="0.6" opacity="0.04"/>
<polyline points="793.4,357.5 900.2,375.6 927.5,361.3" fill="none" stroke="#2a0510" stroke-width="1.5" opacity="0.85"/>
<polyline points="793.4,358.8 900.2,376.9" fill="none" stroke="#e2c3c5" stroke-width="1.1" opacity="0.9"/>
<polyline points="900.2,376.9 927.5,362.6" fill="none" stroke="#a87880" stroke-width="0.8" opacity="0.45"/>
<polygon points="836.8,367.6 850.4,369.9 850.4,385.5 836.7,382.9" fill="url(#gb)"/>
<polygon points="850.4,369.9 852.7,370.3 852.7,387.3 850.4,386.9" fill="#35060f" opacity="0.8"/>
<polygon points="835.8,367.4 836.8,367.6 836.7,384.3 835.7,384.1" fill="#35060f" opacity="0.5"/>
<polygon points="899.3,396.3 926.7,380.1 926.7,399.9 899.2,415.1" fill="url(#gs)"/>
<polygon points="792.1,376 900,396.3 899.9,415.1 792.1,394.1" fill="url(#gf)"/>
<line x1="797.5" y1="380.2" x2="886.3" y2="396.7" stroke="#f0d8d8" stroke-width="0.7" opacity="0.25"/>
<line x1="811" y1="383.8" x2="891.2" y2="398.9" stroke="#2f0610" stroke-width="0.7" opacity="0.42"/>
<line x1="800.5" y1="382.3" x2="881.8" y2="397.7" stroke="#f0d8d8" stroke-width="0.6" opacity="0.18"/>
<line x1="816.7" y1="386.4" x2="894.9" y2="401.1" stroke="#2f0610" stroke-width="0.7" opacity="0.28"/>
<line x1="803.2" y1="384.7" x2="890.2" y2="401.1" stroke="#f0d8d8" stroke-width="0.9" opacity="0.38"/>
<line x1="819.4" y1="388.8" x2="875.1" y2="399.3" stroke="#2f0610" stroke-width="0.7" opacity="0.37"/>
<line x1="803.9" y1="387.8" x2="885.7" y2="402.8" stroke="#f0d8d8" stroke-width="0.7" opacity="0.12"/>
<line x1="794.8" y1="387.2" x2="884.2" y2="404" stroke="#2f0610" stroke-width="0.7" opacity="0.24"/>
<line x1="806.1" y1="391.4" x2="883.8" y2="405.6" stroke="#f0d8d8" stroke-width="0.9" opacity="0.23"/>
<line x1="803" y1="391.9" x2="876.7" y2="405.8" stroke="#2f0610" stroke-width="0.7" opacity="0.31"/>
<line x1="799.3" y1="392.7" x2="881.4" y2="408.1" stroke="#f0d8d8" stroke-width="0.6" opacity="0.20"/>
<line x1="815" y1="396.8" x2="896.4" y2="412.1" stroke="#2f0610" stroke-width="0.7" opacity="0.32"/>
<line x1="900" y1="400.3" x2="926.7" y2="384.1" stroke="#e8c8c8" stroke-width="0.6" opacity="0.06"/>
<line x1="900" y1="403.8" x2="926.7" y2="387.6" stroke="#e8c8c8" stroke-width="0.6" opacity="0.06"/>
<line x1="900" y1="407.3" x2="926.7" y2="391.1" stroke="#e8c8c8" stroke-width="0.6" opacity="0.05"/>
<line x1="900" y1="410.9" x2="926.7" y2="394.7" stroke="#e8c8c8" stroke-width="0.6" opacity="0.03"/>
<polyline points="792.1,375.2 900,395.5 926.7,379.3" fill="none" stroke="#2a0510" stroke-width="1.5" opacity="0.85"/>
<polyline points="792.1,376.5 900,396.8" fill="none" stroke="#e2c3c5" stroke-width="1.1" opacity="0.9"/>
<polyline points="900,396.8 926.7,380.6" fill="none" stroke="#a87880" stroke-width="0.8" opacity="0.45"/>
<polygon points="836.7,386.2 850.4,388.8 850.3,403.2 836.6,400.5" fill="url(#gb)"/>
<polygon points="850.4,388.8 852.7,389.2 852.6,405 850.3,404.6" fill="#35060f" opacity="0.8"/>
<polygon points="835.7,386 836.7,386.2 836.6,401.9 835.6,401.7" fill="#35060f" opacity="0.5"/>
<polygon points="899.2,414.3 927,399.1 927,417.9 899.1,431.4" fill="url(#gs)"/>
<polygon points="792.4,393.3 899.9,414.3 899.8,431.4 792.4,415.9" fill="url(#gf)"/>
<line x1="807.7" y1="399.4" x2="895.7" y2="416.5" stroke="#f0d8d8" stroke-width="0.6" opacity="0.27"/>
<line x1="800.3" y1="399.1" x2="863.9" y2="411.5" stroke="#2f0610" stroke-width="0.7" opacity="0.39"/>
<line x1="799.3" y1="401.3" x2="886.8" y2="418.4" stroke="#f0d8d8" stroke-width="0.6" opacity="0.20"/>
<line x1="807.6" y1="404" x2="888.3" y2="419.8" stroke="#2f0610" stroke-width="0.7" opacity="0.29"/>
<line x1="812.2" y1="405.8" x2="898" y2="422.9" stroke="#f0d8d8" stroke-width="0.7" opacity="0.12"/>
<line x1="821.7" y1="408.7" x2="858.5" y2="415.9" stroke="#2f0610" stroke-width="0.7" opacity="0.23"/>
<line x1="797.1" y1="406" x2="883.5" y2="423.2" stroke="#f0d8d8" stroke-width="0.6" opacity="0.24"/>
<line x1="806.7" y1="409" x2="895.4" y2="426.3" stroke="#2f0610" stroke-width="0.7" opacity="0.32"/>
<line x1="812.6" y1="413.7" x2="891.9" y2="429.8" stroke="#f0d8d8" stroke-width="0.7" opacity="0.19"/>
<line x1="808.1" y1="413.9" x2="874.2" y2="426.8" stroke="#2f0610" stroke-width="0.7" opacity="0.49"/>
<line x1="809" y1="415.6" x2="880.4" y2="430" stroke="#f0d8d8" stroke-width="0.6" opacity="0.14"/>
<line x1="823" y1="419.4" x2="891.4" y2="432.8" stroke="#2f0610" stroke-width="0.7" opacity="0.32"/>
<line x1="899.9" y1="418.7" x2="927" y2="403.5" stroke="#e8c8c8" stroke-width="0.6" opacity="0.06"/>
<line x1="899.9" y1="422.5" x2="927" y2="407.3" stroke="#e8c8c8" stroke-width="0.6" opacity="0.07"/>
<line x1="899.9" y1="427.7" x2="927" y2="412.5" stroke="#e8c8c8" stroke-width="0.6" opacity="0.03"/>
<line x1="899.9" y1="430.7" x2="927" y2="415.5" stroke="#e8c8c8" stroke-width="0.6" opacity="0.03"/>
<polyline points="792.4,392.5 899.9,413.5 927,398.3" fill="none" stroke="#2a0510" stroke-width="1.5" opacity="0.85"/>
<polyline points="792.4,393.8 899.9,414.8" fill="none" stroke="#e2c3c5" stroke-width="1.1" opacity="0.9"/>
<polyline points="899.9,414.8 927,399.6" fill="none" stroke="#a87880" stroke-width="0.8" opacity="0.45"/>
<polygon points="836.6,403.8 850.3,406.5 850.3,422 836.5,420" fill="url(#gb)"/>
<polygon points="850.3,406.5 852.6,406.9 852.6,423.8 850.3,423.4" fill="#35060f" opacity="0.8"/>
<polygon points="835.6,403.6 836.6,403.8 836.5,421.4 835.5,421.3" fill="#35060f" opacity="0.5"/>
<polygon points="899.1,430.6 926.6,417.1 926.6,434.6 898.9,449.2" fill="url(#gs)"/>
<polygon points="792,415.1 899.8,430.6 899.6,449.2 792,433.9" fill="url(#gf)"/>
<line x1="809.2" y1="419.9" x2="893.6" y2="432.2" stroke="#f0d8d8" stroke-width="0.6" opacity="0.19"/>
<line x1="816.9" y1="422.1" x2="862.9" y2="428.7" stroke="#2f0610" stroke-width="0.7" opacity="0.47"/>
<line x1="794.8" y1="421.2" x2="894.2" y2="435.7" stroke="#f0d8d8" stroke-width="0.6" opacity="0.27"/>
<line x1="796.9" y1="422.6" x2="889.9" y2="436" stroke="#2f0610" stroke-width="0.7" opacity="0.20"/>
<line x1="810.2" y1="426" x2="895.9" y2="437.8" stroke="#f0d8d8" stroke-width="0.9" opacity="0.18"/>
<line x1="809.1" y1="426.9" x2="895" y2="439.3" stroke="#2f0610" stroke-width="0.7" opacity="0.41"/>
<line x1="808.1" y1="427" x2="889.9" y2="438.7" stroke="#f0d8d8" stroke-width="0.6" opacity="0.11"/>
<line x1="805.5" y1="427.7" x2="896.2" y2="440.7" stroke="#2f0610" stroke-width="0.7" opacity="0.23"/>
<line x1="796.5" y1="429.2" x2="889.9" y2="442.7" stroke="#f0d8d8" stroke-width="0.7" opacity="0.11"/>
<line x1="802.2" y1="431.1" x2="874.1" y2="441.5" stroke="#2f0610" stroke-width="0.7" opacity="0.37"/>
<line x1="806.4" y1="433.5" x2="879.7" y2="443.4" stroke="#f0d8d8" stroke-width="0.9" opacity="0.09"/>
<line x1="804.7" y1="434.4" x2="876.6" y2="444.7" stroke="#2f0610" stroke-width="0.7" opacity="0.49"/>
<line x1="899.8" y1="434.8" x2="926.6" y2="421.3" stroke="#e8c8c8" stroke-width="0.6" opacity="0.06"/>
<line x1="899.8" y1="436.9" x2="926.6" y2="423.4" stroke="#e8c8c8" stroke-width="0.6" opacity="0.04"/>
<line x1="899.8" y1="441.8" x2="926.6" y2="428.3" stroke="#e8c8c8" stroke-width="0.6" opacity="0.03"/>
<line x1="899.8" y1="445.1" x2="926.6" y2="431.6" stroke="#e8c8c8" stroke-width="0.6" opacity="0.03"/>
<polyline points="792,414.3 899.8,429.8 926.6,416.3" fill="none" stroke="#2a0510" stroke-width="1.5" opacity="0.85"/>
<polyline points="792,415.6 899.8,431.1" fill="none" stroke="#e2c3c5" stroke-width="1.1" opacity="0.9"/>
<polyline points="899.8,431.1 926.6,417.6" fill="none" stroke="#a87880" stroke-width="0.8" opacity="0.45"/>
<polygon points="836.5,423.3 850.3,425.3 850.2,439.9 836.5,438" fill="url(#gb)"/>
<polygon points="850.3,425.3 852.6,425.7 852.5,441.7 850.2,441.3" fill="#35060f" opacity="0.8"/>
<polygon points="835.5,423.2 836.5,423.3 836.5,439.4 835.5,439.2" fill="#35060f" opacity="0.5"/>
<polygon points="898.9,448.4 927,433.8 927,451.5 898.8,467.9" fill="url(#gs)"/>
<polygon points="793.2,433.1 899.6,448.4 899.5,467.9 793.2,450.9" fill="url(#gf)"/>
<line x1="814.3" y1="437.7" x2="895.4" y2="449" stroke="#f0d8d8" stroke-width="0.7" opacity="0.35"/>
<line x1="813.3" y1="438.7" x2="897" y2="450.7" stroke="#2f0610" stroke-width="0.7" opacity="0.42"/>
<line x1="809.3" y1="441" x2="890.2" y2="452.1" stroke="#f0d8d8" stroke-width="0.7" opacity="0.17"/>
<line x1="816.6" y1="443.2" x2="871.1" y2="451" stroke="#2f0610" stroke-width="0.7" opacity="0.48"/>
<line x1="808.6" y1="442.7" x2="885.4" y2="454.2" stroke="#f0d8d8" stroke-width="0.6" opacity="0.13"/>
<line x1="813.1" y1="444.4" x2="862.7" y2="451.6" stroke="#2f0610" stroke-width="0.7" opacity="0.39"/>
<line x1="797.3" y1="442.9" x2="879.1" y2="454.6" stroke="#f0d8d8" stroke-width="0.6" opacity="0.27"/>
<line x1="800.5" y1="444.4" x2="863.8" y2="453.5" stroke="#2f0610" stroke-width="0.7" opacity="0.24"/>
<line x1="794.8" y1="445.3" x2="898" y2="460" stroke="#f0d8d8" stroke-width="0.9" opacity="0.19"/>
<line x1="799.8" y1="447.1" x2="863.4" y2="456.3" stroke="#2f0610" stroke-width="0.7" opacity="0.41"/>
<line x1="812.8" y1="450.5" x2="891.6" y2="462.1" stroke="#f0d8d8" stroke-width="0.7" opacity="0.18"/>
<line x1="824.6" y1="453.2" x2="890.7" y2="462.8" stroke="#2f0610" stroke-width="0.7" opacity="0.40"/>
<line x1="899.6" y1="452" x2="927" y2="437.4" stroke="#e8c8c8" stroke-width="0.6" opacity="0.03"/>
<line x1="899.6" y1="454.9" x2="927" y2="440.3" stroke="#e8c8c8" stroke-width="0.6" opacity="0.04"/>
<line x1="899.6" y1="458.9" x2="927" y2="444.3" stroke="#e8c8c8" stroke-width="0.6" opacity="0.02"/>
<line x1="899.6" y1="461.8" x2="927" y2="447.2" stroke="#e8c8c8" stroke-width="0.6" opacity="0.03"/>
<polyline points="793.2,432.3 899.6,447.6 927,433" fill="none" stroke="#2a0510" stroke-width="1.5" opacity="0.85"/>
<polyline points="793.2,433.6 899.6,448.9" fill="none" stroke="#e2c3c5" stroke-width="1.1" opacity="0.9"/>
<polyline points="899.6,448.9 927,434.3" fill="none" stroke="#a87880" stroke-width="0.8" opacity="0.45"/>
<polygon points="836.5,441.3 850.2,443.2 850.2,457.9 836.4,455.7" fill="url(#gb)"/>
<polygon points="850.2,443.2 852.5,443.6 852.5,459.6 850.2,459.3" fill="#35060f" opacity="0.8"/>
<polygon points="835.5,441.1 836.5,441.3 836.4,457.1 835.4,456.9" fill="#35060f" opacity="0.5"/>
<polygon points="898.8,467.1 926.5,450.7 926.5,471.4 898.7,487.1" fill="url(#gs)"/>
<polygon points="793,450.1 899.5,467.1 899.4,487.1 793,468" fill="url(#gf)"/>
<line x1="810.6" y1="455.8" x2="891.2" y2="468.2" stroke="#f0d8d8" stroke-width="0.7" opacity="0.38"/>
<line x1="810.5" y1="456.9" x2="871.9" y2="466.7" stroke="#2f0610" stroke-width="0.7" opacity="0.35"/>
<line x1="808.2" y1="456.8" x2="899.2" y2="471.4" stroke="#f0d8d8" stroke-width="0.6" opacity="0.34"/>
<line x1="811.1" y1="458.4" x2="858" y2="465.9" stroke="#2f0610" stroke-width="0.7" opacity="0.40"/>
<line x1="795.9" y1="458.4" x2="888.4" y2="473" stroke="#f0d8d8" stroke-width="0.6" opacity="0.19"/>
<line x1="822.7" y1="463.7" x2="872.3" y2="471.7" stroke="#2f0610" stroke-width="0.7" opacity="0.34"/>
<line x1="813.7" y1="462.5" x2="881.1" y2="473.9" stroke="#f0d8d8" stroke-width="0.9" opacity="0.23"/>
<line x1="795" y1="460.7" x2="895.9" y2="476.8" stroke="#2f0610" stroke-width="0.7" opacity="0.25"/>
<line x1="812.1" y1="465.8" x2="885.3" y2="477" stroke="#f0d8d8" stroke-width="0.6" opacity="0.27"/>
<line x1="802.2" y1="465.3" x2="895.1" y2="480.1" stroke="#2f0610" stroke-width="0.7" opacity="0.27"/>
<line x1="810.7" y1="467.7" x2="882.2" y2="479.2" stroke="#f0d8d8" stroke-width="0.6" opacity="0.09"/>
<line x1="805.9" y1="468" x2="890.3" y2="481.5" stroke="#2f0610" stroke-width="0.7" opacity="0.48"/>
<line x1="899.5" y1="471.4" x2="926.5" y2="455" stroke="#e8c8c8" stroke-width="0.6" opacity="0.03"/>
<line x1="899.5" y1="474.4" x2="926.5" y2="458" stroke="#e8c8c8" stroke-width="0.6" opacity="0.06"/>
<line x1="899.5" y1="478.1" x2="926.5" y2="461.7" stroke="#e8c8c8" stroke-width="0.6" opacity="0.04"/>
<line x1="899.5" y1="481" x2="926.5" y2="464.6" stroke="#e8c8c8" stroke-width="0.6" opacity="0.04"/>
<polyline points="793,449.3 899.5,466.3 926.5,449.9" fill="none" stroke="#2a0510" stroke-width="1.5" opacity="0.85"/>
<polyline points="793,450.6 899.5,467.6" fill="none" stroke="#e2c3c5" stroke-width="1.1" opacity="0.9"/>
<polyline points="899.5,467.6 926.5,451.2" fill="none" stroke="#a87880" stroke-width="0.8" opacity="0.45"/>
<polygon points="836.4,459 850.2,461.2 850.2,476.1 836.3,473.6" fill="url(#gb)"/>
<polygon points="850.2,461.2 852.5,461.5 852.5,477.9 850.2,477.5" fill="#35060f" opacity="0.8"/>
<polygon points="835.4,458.8 836.4,459 836.3,475 835.3,474.8" fill="#35060f" opacity="0.5"/>
<polygon points="898.7,486.3 926.1,470.6 926.1,489 898.6,505.3" fill="url(#gs)"/>
<polygon points="791.8,467.2 899.4,486.3 899.3,505.3 791.8,486" fill="url(#gf)"/>
<line x1="800.6" y1="470.7" x2="878.6" y2="484.6" stroke="#f0d8d8" stroke-width="0.7" opacity="0.18"/>
<line x1="797.4" y1="471.3" x2="878.7" y2="485.7" stroke="#2f0610" stroke-width="0.7" opacity="0.28"/>
<line x1="798.9" y1="473.7" x2="891.7" y2="489.5" stroke="#f0d8d8" stroke-width="0.6" opacity="0.32"/>
<line x1="804.8" y1="475.9" x2="877.8" y2="488.8" stroke="#2f0610" stroke-width="0.7" opacity="0.23"/>
<line x1="811.1" y1="478.1" x2="897.5" y2="493.5" stroke="#f0d8d8" stroke-width="0.7" opacity="0.22"/>
<line x1="807.5" y1="478.5" x2="899.2" y2="494.8" stroke="#2f0610" stroke-width="0.7" opacity="0.45"/>
<line x1="800.6" y1="479.7" x2="887.2" y2="495.2" stroke="#f0d8d8" stroke-width="0.9" opacity="0.30"/>
<line x1="802.4" y1="481.1" x2="878.8" y2="494.7" stroke="#2f0610" stroke-width="0.7" opacity="0.33"/>
<line x1="811.3" y1="482.7" x2="884.2" y2="495.8" stroke="#f0d8d8" stroke-width="0.7" opacity="0.18"/>
<line x1="811.1" y1="483.7" x2="888.7" y2="497.5" stroke="#2f0610" stroke-width="0.7" opacity="0.29"/>
<line x1="793.3" y1="483.1" x2="880.6" y2="498.5" stroke="#f0d8d8" stroke-width="0.7" opacity="0.16"/>
<line x1="823.2" y1="489.5" x2="876.8" y2="499" stroke="#2f0610" stroke-width="0.7" opacity="0.23"/>
<line x1="899.4" y1="490.6" x2="926.1" y2="474.9" stroke="#e8c8c8" stroke-width="0.6" opacity="0.06"/>
<line x1="899.4" y1="493.8" x2="926.1" y2="478.1" stroke="#e8c8c8" stroke-width="0.6" opacity="0.07"/>
<line x1="899.4" y1="497.8" x2="926.1" y2="482.1" stroke="#e8c8c8" stroke-width="0.6" opacity="0.06"/>
<line x1="899.4" y1="501.1" x2="926.1" y2="485.4" stroke="#e8c8c8" stroke-width="0.6" opacity="0.04"/>
<polyline points="791.8,466.4 899.4,485.5 926.1,469.8" fill="none" stroke="#2a0510" stroke-width="1.5" opacity="0.85"/>
<polyline points="791.8,467.7 899.4,486.8" fill="none" stroke="#e2c3c5" stroke-width="1.1" opacity="0.9"/>
<polyline points="899.4,486.8 926.1,471.1" fill="none" stroke="#a87880" stroke-width="0.8" opacity="0.45"/>
<polygon points="836.3,476.9 850.2,479.4 850.1,494.2 836.3,491.7" fill="url(#gb)"/>
<polygon points="850.2,479.4 852.5,479.8 852.4,496 850.1,495.6" fill="#35060f" opacity="0.8"/>
<polygon points="835.3,476.7 836.3,476.9 836.3,493.1 835.3,492.9" fill="#35060f" opacity="0.5"/>
<polygon points="898.6,504.5 927.7,488.2 927.7,506.5 898.5,524" fill="url(#gs)"/>
<polygon points="793.4,485.2 899.3,504.5 899.2,524 793.4,503.6" fill="url(#gf)"/>
<line x1="805" y1="489.6" x2="890" y2="504.6" stroke="#f0d8d8" stroke-width="0.7" opacity="0.35"/>
<line x1="811.4" y1="491.9" x2="895.2" y2="507.1" stroke="#2f0610" stroke-width="0.7" opacity="0.23"/>
<line x1="796" y1="491.2" x2="889.5" y2="508.9" stroke="#f0d8d8" stroke-width="0.6" opacity="0.12"/>
<line x1="816.5" y1="496.1" x2="857.9" y2="503.6" stroke="#2f0610" stroke-width="0.7" opacity="0.25"/>
<line x1="802.9" y1="494.4" x2="889.3" y2="509.6" stroke="#f0d8d8" stroke-width="0.6" opacity="0.29"/>
<line x1="794.9" y1="494" x2="858.2" y2="505.6" stroke="#2f0610" stroke-width="0.7" opacity="0.47"/>
<line x1="804" y1="496.8" x2="897.9" y2="514.6" stroke="#f0d8d8" stroke-width="0.6" opacity="0.21"/>
<line x1="799.9" y1="497.2" x2="893.3" y2="514.2" stroke="#2f0610" stroke-width="0.7" opacity="0.41"/>
<line x1="800.1" y1="498.2" x2="896.3" y2="516.3" stroke="#f0d8d8" stroke-width="0.9" opacity="0.09"/>
<line x1="821.4" y1="503.2" x2="899.1" y2="517.4" stroke="#2f0610" stroke-width="0.7" opacity="0.26"/>
<line x1="797.5" y1="501.3" x2="896.7" y2="518.7" stroke="#f0d8d8" stroke-width="0.9" opacity="0.09"/>
<line x1="819.4" y1="506.4" x2="897.6" y2="520.6" stroke="#2f0610" stroke-width="0.7" opacity="0.28"/>
<line x1="899.3" y1="507.9" x2="927.7" y2="491.6" stroke="#e8c8c8" stroke-width="0.6" opacity="0.08"/>
<line x1="899.3" y1="511.2" x2="927.7" y2="494.9" stroke="#e8c8c8" stroke-width="0.6" opacity="0.07"/>
<line x1="899.3" y1="515.6" x2="927.7" y2="499.3" stroke="#e8c8c8" stroke-width="0.6" opacity="0.03"/>
<line x1="899.3" y1="518" x2="927.7" y2="501.7" stroke="#e8c8c8" stroke-width="0.6" opacity="0.04"/>
<polyline points="793.4,484.4 899.3,503.7 927.7,487.4" fill="none" stroke="#2a0510" stroke-width="1.5" opacity="0.85"/>
<polyline points="793.4,485.7 899.3,505" fill="none" stroke="#e2c3c5" stroke-width="1.1" opacity="0.9"/>
<polyline points="899.3,505 927.7,488.7" fill="none" stroke="#a87880" stroke-width="0.8" opacity="0.45"/>
<polygon points="836.3,495 850.1,497.5 850.1,512.4 836.2,509.8" fill="url(#gb)"/>
<polygon points="850.1,497.5 852.4,497.9 852.4,514.3 850.1,513.8" fill="#35060f" opacity="0.8"/>
<polygon points="835.3,494.8 836.3,495 836.2,511.2 835.2,511" fill="#35060f" opacity="0.5"/>
<polygon points="898.5,523.2 927.7,505.7 927.7,526.4 898.3,542.3" fill="url(#gs)"/>
<polygon points="793.3,502.8 899.2,523.2 899,542.3 793.3,520.8" fill="url(#gf)"/>
<line x1="808" y1="507.4" x2="883.7" y2="522.3" stroke="#f0d8d8" stroke-width="0.7" opacity="0.31"/>
<line x1="818.4" y1="510.5" x2="872.6" y2="521" stroke="#2f0610" stroke-width="0.7" opacity="0.40"/>
<line x1="805.8" y1="510.8" x2="882.8" y2="525.4" stroke="#f0d8d8" stroke-width="0.9" opacity="0.38"/>
<line x1="800.5" y1="510.9" x2="862.4" y2="522.8" stroke="#2f0610" stroke-width="0.7" opacity="0.40"/>
<line x1="795" y1="510.4" x2="897.4" y2="529.6" stroke="#f0d8d8" stroke-width="0.6" opacity="0.35"/>
<line x1="812.4" y1="514.9" x2="868.9" y2="525.8" stroke="#2f0610" stroke-width="0.7" opacity="0.28"/>
<line x1="795.2" y1="513.5" x2="884" y2="531" stroke="#f0d8d8" stroke-width="0.7" opacity="0.15"/>
<line x1="816.6" y1="518.7" x2="858" y2="526.7" stroke="#2f0610" stroke-width="0.7" opacity="0.44"/>
<line x1="812.3" y1="518.1" x2="891.1" y2="533.9" stroke="#f0d8d8" stroke-width="0.6" opacity="0.21"/>
<line x1="822.8" y1="521.3" x2="878" y2="531.9" stroke="#2f0610" stroke-width="0.7" opacity="0.25"/>
<line x1="807" y1="520.3" x2="885.6" y2="535.6" stroke="#f0d8d8" stroke-width="0.9" opacity="0.20"/>
<line x1="802.6" y1="520.5" x2="891.8" y2="537.7" stroke="#2f0610" stroke-width="0.7" opacity="0.39"/>
<line x1="899.2" y1="527.5" x2="927.7" y2="510" stroke="#e8c8c8" stroke-width="0.6" opacity="0.07"/>
<line x1="899.2" y1="530.1" x2="927.7" y2="512.6" stroke="#e8c8c8" stroke-width="0.6" opacity="0.05"/>
<line x1="899.2" y1="534" x2="927.7" y2="516.5" stroke="#e8c8c8" stroke-width="0.6" opacity="0.02"/>
<line x1="899.2" y1="536.8" x2="927.7" y2="519.3" stroke="#e8c8c8" stroke-width="0.6" opacity="0.03"/>
<polyline points="793.3,502 899.2,522.4 927.7,504.9" fill="none" stroke="#2a0510" stroke-width="1.5" opacity="0.85"/>
<polyline points="793.3,503.3 899.2,523.7" fill="none" stroke="#e2c3c5" stroke-width="1.1" opacity="0.9"/>
<polyline points="899.2,523.7 927.7,506.2" fill="none" stroke="#a87880" stroke-width="0.8" opacity="0.45"/>
<polygon points="836.2,513.1 850.1,515.7 850.1,530.2 836.1,527.4" fill="url(#gb)"/>
<polygon points="850.1,515.7 852.4,516.2 852.4,532.1 850.1,531.6" fill="#35060f" opacity="0.8"/>
<polygon points="835.2,512.9 836.2,513.1 836.1,528.8 835.1,528.6" fill="#35060f" opacity="0.5"/>
<polygon points="898.3,541.5 927.3,525.6 927.3,542.8 898.2,560.3" fill="url(#gs)"/>
<polygon points="792.7,520 899,541.5 898.9,560.3 792.7,538.3" fill="url(#gf)"/>
<line x1="798.2" y1="523.7" x2="893" y2="543.2" stroke="#f0d8d8" stroke-width="0.9" opacity="0.22"/>
<line x1="799.8" y1="525.1" x2="881.2" y2="541.6" stroke="#2f0610" stroke-width="0.7" opacity="0.35"/>
<line x1="805.4" y1="526.8" x2="893" y2="544.6" stroke="#f0d8d8" stroke-width="0.6" opacity="0.39"/>
<line x1="803.1" y1="527.4" x2="882.4" y2="543.4" stroke="#2f0610" stroke-width="0.7" opacity="0.38"/>
<line x1="803.4" y1="530.2" x2="893.1" y2="548.8" stroke="#f0d8d8" stroke-width="0.6" opacity="0.12"/>
<line x1="821.7" y1="535" x2="880.7" y2="546.9" stroke="#2f0610" stroke-width="0.7" opacity="0.36"/>
<line x1="797.8" y1="531.5" x2="880.9" y2="548.1" stroke="#f0d8d8" stroke-width="0.7" opacity="0.11"/>
<line x1="818.9" y1="536.9" x2="887.9" y2="550.9" stroke="#2f0610" stroke-width="0.7" opacity="0.43"/>
<line x1="803.3" y1="535.1" x2="891.6" y2="553" stroke="#f0d8d8" stroke-width="0.6" opacity="0.16"/>
<line x1="797.8" y1="535.1" x2="885.9" y2="552.9" stroke="#2f0610" stroke-width="0.7" opacity="0.45"/>
<line x1="794" y1="535.8" x2="886.5" y2="554.3" stroke="#f0d8d8" stroke-width="0.6" opacity="0.11"/>
<line x1="796.8" y1="537.4" x2="888.6" y2="556" stroke="#2f0610" stroke-width="0.7" opacity="0.38"/>
<line x1="899" y1="544.4" x2="927.3" y2="528.5" stroke="#e8c8c8" stroke-width="0.6" opacity="0.07"/>
<line x1="899" y1="548.5" x2="927.3" y2="532.6" stroke="#e8c8c8" stroke-width="0.6" opacity="0.07"/>
<line x1="899" y1="551.1" x2="927.3" y2="535.2" stroke="#e8c8c8" stroke-width="0.6" opacity="0.04"/>
<line x1="899" y1="555.5" x2="927.3" y2="539.6" stroke="#e8c8c8" stroke-width="0.6" opacity="0.02"/>
<polyline points="792.7,519.2 899,540.7 927.3,524.8" fill="none" stroke="#2a0510" stroke-width="1.5" opacity="0.85"/>
<polyline points="792.7,520.5 899,542" fill="none" stroke="#e2c3c5" stroke-width="1.1" opacity="0.9"/>
<polyline points="899,542 927.3,526.1" fill="none" stroke="#a87880" stroke-width="0.8" opacity="0.45"/>
<polygon points="836.1,530.7 850.1,533.5 850,548 836.1,545.1" fill="url(#gb)"/>
<polygon points="850.1,533.5 852.4,534 852.3,549.9 850,549.4" fill="#35060f" opacity="0.8"/>
<polygon points="835.1,530.5 836.1,530.7 836.1,546.5 835.1,546.3" fill="#35060f" opacity="0.5"/>
<polygon points="898.2,559.5 927,542 927,559.5 898.1,577.4" fill="url(#gs)"/>
<polygon points="792.6,537.5 898.9,559.5 898.8,577.4 792.6,552.4" fill="url(#gf)"/>
<line x1="802.7" y1="541.8" x2="897.5" y2="562.1" stroke="#f0d8d8" stroke-width="0.9" opacity="0.35"/>
<line x1="817" y1="545.8" x2="887.6" y2="560.5" stroke="#2f0610" stroke-width="0.7" opacity="0.27"/>
<line x1="804.4" y1="543.8" x2="882.8" y2="560" stroke="#f0d8d8" stroke-width="0.7" opacity="0.40"/>
<line x1="802.5" y1="544.5" x2="896.6" y2="564" stroke="#2f0610" stroke-width="0.7" opacity="0.48"/>
<line x1="796" y1="544.2" x2="890.1" y2="564.3" stroke="#f0d8d8" stroke-width="0.9" opacity="0.31"/>
<line x1="814.8" y1="549.2" x2="893.1" y2="565.4" stroke="#2f0610" stroke-width="0.7" opacity="0.38"/>
<line x1="802.5" y1="548.6" x2="886" y2="566.4" stroke="#f0d8d8" stroke-width="0.6" opacity="0.18"/>
<line x1="799.5" y1="549.1" x2="871.2" y2="563.9" stroke="#2f0610" stroke-width="0.7" opacity="0.26"/>
<line x1="796.1" y1="548.9" x2="882" y2="566.3" stroke="#f0d8d8" stroke-width="0.7" opacity="0.18"/>
<line x1="807.7" y1="552.4" x2="877.2" y2="566.8" stroke="#2f0610" stroke-width="0.7" opacity="0.39"/>
<line x1="803" y1="551.9" x2="889.1" y2="569.7" stroke="#f0d8d8" stroke-width="0.7" opacity="0.08"/>
<line x1="804.2" y1="553.3" x2="868.1" y2="566.5" stroke="#2f0610" stroke-width="0.7" opacity="0.21"/>
<line x1="898.9" y1="562" x2="927" y2="544.5" stroke="#e8c8c8" stroke-width="0.6" opacity="0.04"/>
<line x1="898.9" y1="565.3" x2="927" y2="547.8" stroke="#e8c8c8" stroke-width="0.6" opacity="0.07"/>
<line x1="898.9" y1="568.8" x2="927" y2="551.3" stroke="#e8c8c8" stroke-width="0.6" opacity="0.03"/>
<line x1="898.9" y1="571.2" x2="927" y2="553.7" stroke="#e8c8c8" stroke-width="0.6" opacity="0.02"/>
<polyline points="792.6,536.7 898.9,558.7 927,541.2" fill="none" stroke="#2a0510" stroke-width="1.5" opacity="0.85"/>
<polyline points="792.6,538 898.9,560" fill="none" stroke="#e2c3c5" stroke-width="1.1" opacity="0.9"/>
<polyline points="898.9,560 927,542.5" fill="none" stroke="#a87880" stroke-width="0.8" opacity="0.45"/>
<polygon points="836.1,548.4 850,551.3 850,564.5 836,561.2" fill="url(#gb)"/>
<polygon points="850,551.3 852.3,551.8 852.3,566.5 850,565.9" fill="#35060f" opacity="0.8"/>
<polygon points="835.1,548.2 836.1,548.4 836,562.6 835,562.4" fill="#35060f" opacity="0.5"/>
<polygon points="793.5,198.5 822,189.6 923.8,196.6 927.5,199.2 902,209.8" fill="#d9cacb"/><polygon points="803.1,198.6 828.2,191.6 917.8,197.1 921.1,199.1 898.6,207.4" fill="none" stroke="#7b4650" stroke-width="0.7" opacity="0.7"/><ellipse cx="893" cy="200.7" rx="9" ry="2.6" fill="#6f3a45" opacity="0.75" transform="rotate(5 893 200.7)"/><ellipse cx="825" cy="195.5" rx="7" ry="2.2" fill="#6f3a45" opacity="0.6" transform="rotate(-8 825 195.5)"/><ellipse cx="868" cy="197" rx="14" ry="1.2" fill="#6f3a45" opacity="0.35" transform="rotate(4 868 197)"/><polygon points="793.5,198.5 822,189.6 840,190.8 812,200.6" fill="#f1eaea" opacity="0.7"/><polygon points="839.2,203.6 853.4,205.2 866,192.8 852,191.8" fill="#ebe7e8"/><polyline points="793.5,198.8 902,210.1 927.5,199.5" fill="none" stroke="#f3eaea" stroke-width="1.1"/>
<polygon points="611,558.8 660,558.8 749,569.6 722,572 652,565.5 622,561.8" fill="#c6a6a0" opacity="0.8" filter="url(#blur)"/>
<polygon points="640.5,465.5 660,456.6 765,460.6 781,465 781,470 776,467 661,459.5 641.5,468" fill="#fff"/>
<polygon points="765.8,462.7 779.9,462.7 780.8,484.1 781,484.1 780.1,503.1 780.9,503.1 780.6,521.1 779.5,521.1 779.7,539.1 782.5,539.1 781.4,553.3 756.1,571.7 750.5,568.7 750.5,475.8" fill="#fff"/>
<polygon points="749.8,475.8 774.7,466.2 774.7,484.9 749.8,496.3" fill="url(#gs)"/>
<polygon points="641.8,466.7 750.5,475.8 750.5,496.3 641.8,485.8" fill="url(#gf)"/>
<line x1="651" y1="469.7" x2="740.6" y2="476.7" stroke="#f0d8d8" stroke-width="0.7" opacity="0.37"/>
<line x1="652" y1="470.9" x2="726.7" y2="477.2" stroke="#2f0610" stroke-width="0.7" opacity="0.31"/>
<line x1="659.9" y1="474.1" x2="740.4" y2="480.8" stroke="#f0d8d8" stroke-width="0.9" opacity="0.16"/>
<line x1="670" y1="476.1" x2="716.8" y2="480" stroke="#2f0610" stroke-width="0.7" opacity="0.29"/>
<line x1="646.5" y1="474.7" x2="729.6" y2="480.9" stroke="#f0d8d8" stroke-width="0.9" opacity="0.28"/>
<line x1="642.2" y1="475.4" x2="740.1" y2="483.6" stroke="#2f0610" stroke-width="0.7" opacity="0.42"/>
<line x1="643.2" y1="477.6" x2="747.3" y2="486.4" stroke="#f0d8d8" stroke-width="0.6" opacity="0.18"/>
<line x1="672.9" y1="481.2" x2="744.8" y2="487.2" stroke="#2f0610" stroke-width="0.7" opacity="0.27"/>
<line x1="643.7" y1="480.2" x2="738.1" y2="487.9" stroke="#f0d8d8" stroke-width="0.7" opacity="0.10"/>
<line x1="672.1" y1="483.7" x2="719.4" y2="487.6" stroke="#2f0610" stroke-width="0.7" opacity="0.41"/>
<line x1="661.9" y1="483.6" x2="733.1" y2="489.9" stroke="#f0d8d8" stroke-width="0.9" opacity="0.14"/>
<line x1="649.6" y1="483.6" x2="711.1" y2="488.8" stroke="#2f0610" stroke-width="0.7" opacity="0.30"/>
<line x1="750.5" y1="479.3" x2="774.7" y2="469.7" stroke="#e8c8c8" stroke-width="0.6" opacity="0.04"/>
<line x1="750.5" y1="483.3" x2="774.7" y2="473.7" stroke="#e8c8c8" stroke-width="0.6" opacity="0.06"/>
<line x1="750.5" y1="486.9" x2="774.7" y2="477.3" stroke="#e8c8c8" stroke-width="0.6" opacity="0.05"/>
<line x1="750.5" y1="489.6" x2="774.7" y2="480" stroke="#e8c8c8" stroke-width="0.6" opacity="0.03"/>
<polygon points="687.3,470.5 701.6,471.7 701.5,489.4 687.2,488" fill="url(#gb)"/>
<polygon points="701.6,471.7 703.9,471.9 703.8,491 701.5,490.8" fill="#35060f" opacity="0.8"/>
<polygon points="686.3,470.5 687.3,470.5 687.2,489.4 686.2,489.3" fill="#35060f" opacity="0.5"/>
<polygon points="749.8,495.5 775.4,484.1 775.4,503.9 749.8,512.4" fill="url(#gs)"/>
<polygon points="640.7,485 750.5,495.5 750.5,512.4 640.7,504.3" fill="url(#gf)"/>
<line x1="642.1" y1="487.5" x2="737.4" y2="496" stroke="#f0d8d8" stroke-width="0.9" opacity="0.30"/>
<line x1="650.6" y1="489.4" x2="738.2" y2="497.8" stroke="#2f0610" stroke-width="0.7" opacity="0.47"/>
<line x1="641.5" y1="489.6" x2="735.7" y2="498.4" stroke="#f0d8d8" stroke-width="0.9" opacity="0.22"/>
<line x1="670" y1="493.4" x2="734.8" y2="499.6" stroke="#2f0610" stroke-width="0.7" opacity="0.32"/>
<line x1="660.5" y1="494.5" x2="729.2" y2="501.4" stroke="#f0d8d8" stroke-width="0.6" opacity="0.17"/>
<line x1="661.4" y1="495.7" x2="733.9" y2="502.6" stroke="#2f0610" stroke-width="0.7" opacity="0.32"/>
<line x1="646.8" y1="496" x2="746.8" y2="506.1" stroke="#f0d8d8" stroke-width="0.7" opacity="0.19"/>
<line x1="642" y1="496.6" x2="712.6" y2="503.4" stroke="#2f0610" stroke-width="0.7" opacity="0.35"/>
<line x1="648.7" y1="498.6" x2="750" y2="507.8" stroke="#f0d8d8" stroke-width="0.6" opacity="0.13"/>
<line x1="649.2" y1="499.8" x2="716.3" y2="506.2" stroke="#2f0610" stroke-width="0.7" opacity="0.36"/>
<line x1="662.3" y1="503.7" x2="728.6" y2="510.1" stroke="#f0d8d8" stroke-width="0.9" opacity="0.21"/>
<line x1="643.4" y1="503" x2="742.8" y2="512.5" stroke="#2f0610" stroke-width="0.7" opacity="0.47"/>
<line x1="750.5" y1="499.6" x2="775.4" y2="488.2" stroke="#e8c8c8" stroke-width="0.6" opacity="0.07"/>
<line x1="750.5" y1="502.5" x2="775.4" y2="491.1" stroke="#e8c8c8" stroke-width="0.6" opacity="0.03"/>
<line x1="750.5" y1="505.7" x2="775.4" y2="494.3" stroke="#e8c8c8" stroke-width="0.6" opacity="0.05"/>
<line x1="750.5" y1="509.8" x2="775.4" y2="498.4" stroke="#e8c8c8" stroke-width="0.6" opacity="0.03"/>
<polyline points="640.7,484.2 750.5,494.7 775.4,483.3" fill="none" stroke="#2a0510" stroke-width="1.5" opacity="0.85"/>
<polyline points="640.7,485.5 750.5,496" fill="none" stroke="#e2c3c5" stroke-width="1.1" opacity="0.9"/>
<polyline points="750.5,496 775.4,484.6" fill="none" stroke="#a87880" stroke-width="0.8" opacity="0.45"/>
<polygon points="687.2,491.3 701.5,492.7 701.4,506.6 687.1,505.5" fill="url(#gb)"/>
<polygon points="701.5,492.7 703.8,492.9 703.7,508.1 701.4,508" fill="#35060f" opacity="0.8"/>
<polygon points="686.2,491.2 687.2,491.3 687.1,506.9 686.1,506.8" fill="#35060f" opacity="0.5"/>
<polygon points="749.8,511.6 775.5,503.1 775.5,521.9 749.8,532.3" fill="url(#gs)"/>
<polygon points="641.5,503.5 750.5,511.6 750.5,532.3 641.5,522.7" fill="url(#gf)"/>
<line x1="645.7" y1="505.8" x2="732.2" y2="512" stroke="#f0d8d8" stroke-width="0.9" opacity="0.37"/>
<line x1="651.1" y1="507.3" x2="725" y2="512.8" stroke="#2f0610" stroke-width="0.7" opacity="0.31"/>
<line x1="652.3" y1="509.9" x2="742.8" y2="516.4" stroke="#f0d8d8" stroke-width="0.9" opacity="0.33"/>
<line x1="665.6" y1="512" x2="745.2" y2="517.9" stroke="#2f0610" stroke-width="0.7" opacity="0.50"/>
<line x1="660.8" y1="513.4" x2="735.5" y2="519.4" stroke="#f0d8d8" stroke-width="0.9" opacity="0.24"/>
<line x1="657.2" y1="514.2" x2="714" y2="518.5" stroke="#2f0610" stroke-width="0.7" opacity="0.46"/>
<line x1="642.6" y1="514.8" x2="734.2" y2="521.6" stroke="#f0d8d8" stroke-width="0.7" opacity="0.27"/>
<line x1="649.8" y1="516.4" x2="734.6" y2="522.7" stroke="#2f0610" stroke-width="0.7" opacity="0.31"/>
<line x1="645.5" y1="517.3" x2="747.4" y2="524.4" stroke="#f0d8d8" stroke-width="0.6" opacity="0.19"/>
<line x1="660" y1="519.5" x2="725.2" y2="524.3" stroke="#2f0610" stroke-width="0.7" opacity="0.41"/>
<line x1="659.6" y1="520.8" x2="746.2" y2="526.8" stroke="#f0d8d8" stroke-width="0.9" opacity="0.13"/>
<line x1="651" y1="521.3" x2="735.3" y2="527.6" stroke="#2f0610" stroke-width="0.7" opacity="0.49"/>
<line x1="750.5" y1="515.2" x2="775.5" y2="506.7" stroke="#e8c8c8" stroke-width="0.6" opacity="0.07"/>
<line x1="750.5" y1="519.5" x2="775.5" y2="511" stroke="#e8c8c8" stroke-width="0.6" opacity="0.07"/>
<line x1="750.5" y1="522.2" x2="775.5" y2="513.7" stroke="#e8c8c8" stroke-width="0.6" opacity="0.03"/>
<line x1="750.5" y1="525.9" x2="775.5" y2="517.4" stroke="#e8c8c8" stroke-width="0.6" opacity="0.04"/>
<polyline points="641.5,502.7 750.5,510.8 775.5,502.3" fill="none" stroke="#2a0510" stroke-width="1.5" opacity="0.85"/>
<polyline points="641.5,504 750.5,512.1" fill="none" stroke="#e2c3c5" stroke-width="1.1" opacity="0.9"/>
<polyline points="750.5,512.1 775.5,503.6" fill="none" stroke="#a87880" stroke-width="0.8" opacity="0.45"/>
<polygon points="687.1,508.8 701.4,509.9 701.2,525.8 686.9,524.5" fill="url(#gb)"/>
<polygon points="701.4,509.9 703.7,510 703.5,527.4 701.2,527.2" fill="#35060f" opacity="0.8"/>
<polygon points="686.1,508.7 687.1,508.8 686.9,525.9 685.9,525.8" fill="#35060f" opacity="0.5"/>
<polygon points="749.8,531.5 774.8,521.1 774.8,539.9 749.8,551.3" fill="url(#gs)"/>
<polygon points="641.4,521.9 750.5,531.5 750.5,551.3 641.4,538.8" fill="url(#gf)"/>
<line x1="656.2" y1="525.3" x2="731.7" y2="531.5" stroke="#f0d8d8" stroke-width="0.6" opacity="0.46"/>
<line x1="647.7" y1="525.7" x2="722.4" y2="532.2" stroke="#2f0610" stroke-width="0.7" opacity="0.36"/>
<line x1="650.2" y1="527.8" x2="748.4" y2="536.9" stroke="#f0d8d8" stroke-width="0.6" opacity="0.36"/>
<line x1="653.6" y1="529.2" x2="720.4" y2="535" stroke="#2f0610" stroke-width="0.7" opacity="0.44"/>
<line x1="647.6" y1="529.9" x2="737.2" y2="537.9" stroke="#f0d8d8" stroke-width="0.9" opacity="0.30"/>
<line x1="654.1" y1="531.6" x2="737.1" y2="538.9" stroke="#2f0610" stroke-width="0.7" opacity="0.36"/>
<line x1="644.6" y1="531.9" x2="732.5" y2="539" stroke="#f0d8d8" stroke-width="0.7" opacity="0.30"/>
<line x1="670.2" y1="535.2" x2="725.7" y2="540.1" stroke="#2f0610" stroke-width="0.7" opacity="0.25"/>
<line x1="647.3" y1="534.5" x2="741.1" y2="542.5" stroke="#f0d8d8" stroke-width="0.7" opacity="0.16"/>
<line x1="648.9" y1="535.8" x2="727.9" y2="542.7" stroke="#2f0610" stroke-width="0.7" opacity="0.31"/>
<line x1="642.5" y1="535.4" x2="730.1" y2="543.7" stroke="#f0d8d8" stroke-width="0.6" opacity="0.13"/>
<line x1="641.5" y1="536.4" x2="721.5" y2="543.5" stroke="#2f0610" stroke-width="0.7" opacity="0.24"/>
<line x1="750.5" y1="535.2" x2="774.8" y2="524.8" stroke="#e8c8c8" stroke-width="0.6" opacity="0.08"/>
<line x1="750.5" y1="537.8" x2="774.8" y2="527.4" stroke="#e8c8c8" stroke-width="0.6" opacity="0.02"/>
<line x1="750.5" y1="540.9" x2="774.8" y2="530.5" stroke="#e8c8c8" stroke-width="0.6" opacity="0.04"/>
<line x1="750.5" y1="544.5" x2="774.8" y2="534.1" stroke="#e8c8c8" stroke-width="0.6" opacity="0.02"/>
<polyline points="641.4,521.1 750.5,530.7 774.8,520.3" fill="none" stroke="#2a0510" stroke-width="1.5" opacity="0.85"/>
<polyline points="641.4,522.4 750.5,532" fill="none" stroke="#e2c3c5" stroke-width="1.1" opacity="0.9"/>
<polyline points="750.5,532 774.8,521.6" fill="none" stroke="#a87880" stroke-width="0.8" opacity="0.45"/>
<polygon points="686.9,527.8 701.2,529.1 701.1,543.5 686.8,541.8" fill="url(#gb)"/>
<polygon points="701.2,529.1 703.5,529.3 703.4,545.1 701.1,544.9" fill="#35060f" opacity="0.8"/>
<polygon points="685.9,527.7 686.9,527.8 686.8,543.2 685.8,543.1" fill="#35060f" opacity="0.5"/>
<polygon points="749.8,550.5 776.7,539.1 776.7,553.3 749.8,568.7" fill="url(#gs)"/>
<polygon points="641.7,538 750.5,550.5 750.5,568.7 641.7,555.6" fill="url(#gf)"/>
<line x1="659.7" y1="542.8" x2="734.2" y2="550.9" stroke="#f0d8d8" stroke-width="0.6" opacity="0.23"/>
<line x1="674.2" y1="545.5" x2="726.3" y2="551.5" stroke="#2f0610" stroke-width="0.7" opacity="0.45"/>
<line x1="645.6" y1="543.9" x2="729.3" y2="553" stroke="#f0d8d8" stroke-width="0.6" opacity="0.16"/>
<line x1="650.6" y1="545.5" x2="708" y2="552.1" stroke="#2f0610" stroke-width="0.7" opacity="0.37"/>
<line x1="651.9" y1="545.9" x2="748" y2="556.4" stroke="#f0d8d8" stroke-width="0.9" opacity="0.21"/>
<line x1="650.4" y1="546.9" x2="717.7" y2="554.6" stroke="#2f0610" stroke-width="0.7" opacity="0.48"/>
<line x1="648.4" y1="548.8" x2="740.3" y2="559.6" stroke="#f0d8d8" stroke-width="0.6" opacity="0.28"/>
<line x1="672.3" y1="552.7" x2="728" y2="559.1" stroke="#2f0610" stroke-width="0.7" opacity="0.45"/>
<line x1="661.3" y1="552.7" x2="742.3" y2="561.3" stroke="#f0d8d8" stroke-width="0.7" opacity="0.11"/>
<line x1="654.4" y1="553" x2="723.1" y2="560.9" stroke="#2f0610" stroke-width="0.7" opacity="0.40"/>
<line x1="649.7" y1="554.5" x2="742.6" y2="565" stroke="#f0d8d8" stroke-width="0.9" opacity="0.12"/>
<line x1="652.2" y1="555.9" x2="711.1" y2="562.7" stroke="#2f0610" stroke-width="0.7" opacity="0.30"/>
<line x1="750.5" y1="554.4" x2="776.7" y2="543" stroke="#e8c8c8" stroke-width="0.6" opacity="0.04"/>
<line x1="750.5" y1="558" x2="776.7" y2="546.6" stroke="#e8c8c8" stroke-width="0.6" opacity="0.05"/>
<line x1="750.5" y1="561.4" x2="776.7" y2="550" stroke="#e8c8c8" stroke-width="0.6" opacity="0.02"/>
<line x1="750.5" y1="563.9" x2="776.7" y2="552.5" stroke="#e8c8c8" stroke-width="0.6" opacity="0.02"/>
<polyline points="641.7,537.2 750.5,549.7 776.7,538.3" fill="none" stroke="#2a0510" stroke-width="1.5" opacity="0.85"/>
<polyline points="641.7,538.5 750.5,551" fill="none" stroke="#e2c3c5" stroke-width="1.1" opacity="0.9"/>
<polyline points="750.5,551 776.7,539.6" fill="none" stroke="#a87880" stroke-width="0.8" opacity="0.45"/>
<polygon points="686.8,545.1 701.1,546.8 701,561.4 686.7,559.7" fill="url(#gb)"/>
<polygon points="701.1,546.8 703.4,547 703.3,563.1 701,562.8" fill="#35060f" opacity="0.8"/>
<polygon points="685.8,545 686.8,545.1 686.7,561.1 685.7,560.9" fill="#35060f" opacity="0.5"/>
<polygon points="641,466.7 660.5,458 764,462 775.8,466.2 750.5,475.8" fill="#d9cacb"/><polygon points="650.3,466.5 667.4,459.7 758.5,462.8 768.9,466.1 746.6,473.6" fill="none" stroke="#7b4650" stroke-width="0.7" opacity="0.7"/><ellipse cx="743" cy="467.6" rx="8" ry="2.4" fill="#6f3a45" opacity="0.75" transform="rotate(5 743 467.6)"/><ellipse cx="667" cy="463.8" rx="7" ry="2.2" fill="#6f3a45" opacity="0.6" transform="rotate(-8 667 463.8)"/><polygon points="687.3,472 701.6,473.6 707,460.2 694,459.6" fill="#ebe7e8"/><polyline points="641,467 750.5,476.1 775.8,466.5" fill="none" stroke="#f3eaea" stroke-width="1.1"/>
<polygon points="127,525.5 170,527 224,531.5 224.5,549 219,552 219,536 212,533 135,528.5" fill="#fff"/>
<polygon points="192.4,545.7 219.1,536.3 219.1,552 192.4,563" fill="url(#gs)"/>
<polygon points="85.2,537 193.1,545.7 193.1,563 85.2,548.9" fill="url(#gf)"/>
<line x1="96" y1="539.3" x2="180.2" y2="545.8" stroke="#f0d8d8" stroke-width="0.6" opacity="0.69"/>
<line x1="85.9" y1="539.6" x2="157.5" y2="545.3" stroke="#2f0610" stroke-width="0.7" opacity="0.22"/>
<line x1="97.7" y1="542.1" x2="178.5" y2="548.6" stroke="#f0d8d8" stroke-width="0.7" opacity="0.84"/>
<line x1="98.4" y1="543.2" x2="180.4" y2="549.8" stroke="#2f0610" stroke-width="0.7" opacity="0.25"/>
<line x1="99.8" y1="543.9" x2="192" y2="551" stroke="#f0d8d8" stroke-width="0.7" opacity="0.34"/>
<line x1="102.2" y1="545.2" x2="150.4" y2="549" stroke="#2f0610" stroke-width="0.7" opacity="0.42"/>
<line x1="104.9" y1="546.7" x2="172.7" y2="552.3" stroke="#f0d8d8" stroke-width="0.7" opacity="0.35"/>
<line x1="112.9" y1="548.5" x2="177.1" y2="553.6" stroke="#2f0610" stroke-width="0.7" opacity="0.35"/>
<line x1="87.7" y1="547.2" x2="189.6" y2="555.7" stroke="#f0d8d8" stroke-width="0.9" opacity="0.34"/>
<line x1="100.3" y1="549.3" x2="186" y2="556.2" stroke="#2f0610" stroke-width="0.7" opacity="0.35"/>
<line x1="193.1" y1="547.9" x2="219.1" y2="538.5" stroke="#e8c8c8" stroke-width="0.6" opacity="0.06"/>
<line x1="193.1" y1="549.9" x2="219.1" y2="540.5" stroke="#e8c8c8" stroke-width="0.6" opacity="0.07"/>
<line x1="193.1" y1="552.9" x2="219.1" y2="543.5" stroke="#e8c8c8" stroke-width="0.6" opacity="0.04"/>
<line x1="193.1" y1="555" x2="219.1" y2="545.6" stroke="#e8c8c8" stroke-width="0.6" opacity="0.02"/>
<polygon points="130.1,540.6 144.3,541.8 142.7,555 131,553.5" fill="url(#gb)"/>
<polygon points="144.3,541.8 146.6,542 145,556.7 142.7,556.4" fill="#35060f" opacity="0.8"/>
<polygon points="129.1,540.5 130.1,540.6 131,554.9 130,554.8" fill="#35060f" opacity="0.5"/>
<polygon points="85.2,537 111.2,527.6 212,533.1 219.1,536.3 193.1,545.7" fill="#e4d9d9"/><polygon points="94.7,536.8 117.6,529.4 206.3,533.7 212.5,536.2 189.6,543.6" fill="none" stroke="#7b4650" stroke-width="0.7" opacity="0.7"/><ellipse cx="119" cy="533.3" rx="8" ry="2.4" fill="#6f3a45" opacity="0.7" transform="rotate(3 119 533.3)"/><ellipse cx="178" cy="539" rx="8" ry="2.4" fill="#6f3a45" opacity="0.7" transform="rotate(3 178 539)"/><ellipse cx="128" cy="535.5" rx="6" ry="1.3" fill="#6f3a45" opacity="0.5" transform="rotate(-20 128 535.5)"/><polygon points="130.1,541 144.3,543.3 171,530.9 150,529.7" fill="#f4f1f2"/><polyline points="85.2,537.3 193.1,546 219.1,536.6" fill="none" stroke="#f3eaea" stroke-width="1"/>
<g clip-path="url(#c24)"><path d="M702.8,405.1 C704.4,405.1 706.7,405.8 707.9,407.1 C709,408.4 709.9,411.1 710,413.1 C710.2,415.2 709.1,418.2 708.7,419.8 C708.3,421.5 707.2,422.5 707.5,423.2 C707.8,424 708.2,423.8 710.4,424.6 C712.6,425.3 719.2,426 721.3,427.7 C723.3,429.5 722.6,432.5 723.1,435.3 C723.7,438.1 724.3,442.5 724.8,445.4 C725.3,448.2 725.8,450.6 726.5,452.9 C727.1,455.2 728.4,457.6 728.8,459.6 C729.3,461.7 729.5,462.4 729.3,465.5 C729.2,468.6 728.1,474.4 727.7,478.9 C727.3,483.5 726.6,490.8 726.8,494.1 C727.1,497.3 728.9,497.8 729.2,499.1 C729.4,500.4 729.6,501.8 728.5,502.5 C727.4,503.1 724.2,503.3 722.1,503 C720,502.6 716.7,501.5 715.4,500.1 C714.1,498.7 714.3,498.6 714.1,494.1 C713.8,489.5 715.8,475.6 713.7,471.9 C711.7,468.2 705.3,470.9 701.1,470.9 C697,470.9 689.8,468.2 687.7,471.9 C685.6,475.6 687.7,489.5 687.9,494.1 C688,498.6 689.5,498.7 688.5,500.1 C687.6,501.5 684.2,502.6 681.8,503 C679.4,503.4 674.9,503.2 673.4,502.6 C672,502 672.3,500.5 672.6,499.1 C672.9,497.7 675.1,497.3 675.4,494.1 C675.8,490.8 674.8,483.5 674.8,478.9 C674.7,474.4 674.8,468.7 675.1,465.5 C675.4,462.3 675.9,460.8 676.5,458.8 C677,456.8 678.1,455.1 678.8,452.9 C679.5,450.8 680.2,448.2 681,445.4 C681.7,442.5 682.8,438.1 683.5,435.3 C684.2,432.5 683.2,429.5 685.2,427.7 C687.2,426 693.9,425.3 696.1,424.6 C698.2,423.8 698.4,424 698.6,423.2 C698.8,422.5 697.8,421.5 697.3,419.8 C696.8,418.2 695.5,415.2 695.6,413.1 C695.7,411.1 696.8,408.4 697.9,407.1 C699.1,405.8 701.2,405.1 702.8,405.1Z" fill="#fff" transform="translate(5.2,-2.7)"/></g>
<path d="M702.8,405.1 C704.4,405.1 706.7,405.8 707.9,407.1 C709,408.4 709.9,411.1 710,413.1 C710.2,415.2 709.1,418.2 708.7,419.8 C708.3,421.5 707.2,422.5 707.5,423.2 C707.8,424 708.2,423.8 710.4,424.6 C712.6,425.3 719.2,426 721.3,427.7 C723.3,429.5 722.6,432.5 723.1,435.3 C723.7,438.1 724.3,442.5 724.8,445.4 C725.3,448.2 725.8,450.6 726.5,452.9 C727.1,455.2 728.4,457.6 728.8,459.6 C729.3,461.7 729.5,462.4 729.3,465.5 C729.2,468.6 728.1,474.4 727.7,478.9 C727.3,483.5 726.6,490.8 726.8,494.1 C727.1,497.3 728.9,497.8 729.2,499.1 C729.4,500.4 729.6,501.8 728.5,502.5 C727.4,503.1 724.2,503.3 722.1,503 C720,502.6 716.7,501.5 715.4,500.1 C714.1,498.7 714.3,498.6 714.1,494.1 C713.8,489.5 715.8,475.6 713.7,471.9 C711.7,468.2 705.3,470.9 701.1,470.9 C697,470.9 689.8,468.2 687.7,471.9 C685.6,475.6 687.7,489.5 687.9,494.1 C688,498.6 689.5,498.7 688.5,500.1 C687.6,501.5 684.2,502.6 681.8,503 C679.4,503.4 674.9,503.2 673.4,502.6 C672,502 672.3,500.5 672.6,499.1 C672.9,497.7 675.1,497.3 675.4,494.1 C675.8,490.8 674.8,483.5 674.8,478.9 C674.7,474.4 674.8,468.7 675.1,465.5 C675.4,462.3 675.9,460.8 676.5,458.8 C677,456.8 678.1,455.1 678.8,452.9 C679.5,450.8 680.2,448.2 681,445.4 C681.7,442.5 682.8,438.1 683.5,435.3 C684.2,432.5 683.2,429.5 685.2,427.7 C687.2,426 693.9,425.3 696.1,424.6 C698.2,423.8 698.4,424 698.6,423.2 C698.8,422.5 697.8,421.5 697.3,419.8 C696.8,418.2 695.5,415.2 695.6,413.1 C695.7,411.1 696.8,408.4 697.9,407.1 C699.1,405.8 701.2,405.1 702.8,405.1Z" fill="#A6102E"/>
<ellipse cx="702.7" cy="418.3" rx="5.6" ry="4.6" fill="#d96b77" opacity="0.55"/>
<ellipse cx="702.7" cy="410.6" rx="6.6" ry="5.5" fill="#eeb4b5" opacity="0.9"/>
<path d="M698.2,414.6 L707,414.6 L706.8,416.3 L698.4,416.3 Z" fill="#7a1226" opacity="0.85"/>
<path d="M698.3,425.8 L708,425.8 L703.2,441.8 Z" fill="#eebcbc" opacity="0.85"/>
<path d="M701.6,427.3 L704.8,427.3 L704.3,439 L703.2,441.3 L702.1,439 Z" fill="#7a1226"/>
<ellipse cx="700.8" cy="456.3" rx="10.5" ry="4" fill="#e9a5a7" opacity="0.7"/>
<path d="M694,455 L700,458 M699,453 L706,457.5 M703,453.5 L709,456.5" stroke="#8e1530" stroke-width="0.9" fill="none" opacity="0.8"/>
<g clip-path="url(#c25)"><path d="M860.4,137.1 C861.8,137.2 865.1,138.3 866.2,139.3 C867.4,140.3 868.3,142.5 868.4,144.3 C868.5,146.1 867,150.3 867.1,151.9 C867.1,153.4 867.4,154.3 868.8,155.2 C870.2,156.2 875.4,156.7 877.2,158.6 C878.9,160.5 880.5,165.1 881.4,168.7 C882.2,172.2 882.6,179.5 883,183.8 C883.4,188 884,195.9 884.2,198.9 C884.5,201.9 885.3,204 884.9,205.3 C884.5,206.5 882.9,207.1 881.4,207.6 C879.8,208.1 875.9,208.9 873.8,208.9 C871.7,209 867.5,207.7 866.2,207.9 C865,208.2 865.1,208.1 864.6,210.6 C864,213.1 862.8,222.7 862.4,225.7 C861.9,228.8 862.6,230.8 861.4,232.5 C860.2,234.1 856.9,236.9 854,237.5 C851.1,238.1 842.4,237.5 840.6,236.8 C838.7,236.2 839.7,234.8 840.9,232.8 C842.1,230.8 848,226.8 849.3,222.7 C850.6,218.6 851.3,206.3 850.3,203.6 C849.3,200.8 843.4,201.5 842.2,203.2 C841.1,204.9 841.6,212.8 841.9,215.7 C842.2,218.6 844.2,222 844.4,224.1 C844.7,226.1 845.3,228.9 843.6,230.1 C841.8,231.3 835.1,232.4 831.8,232.5 C828.6,232.5 821.9,231.4 820.4,230.8 C818.9,230.2 819.6,229.4 821.1,228.1 C822.6,226.8 830,223.8 831,221.5 C832,219.3 829,215.7 828.5,212.3 C828,208.9 827.4,200.1 827.5,197.2 C827.5,194.3 828.1,192.9 828.8,191.8 C829.5,190.7 829.7,189.9 832.7,189.3 C835.7,188.7 846.4,188 850.3,187.5 C854.2,187 859,186.7 860.4,185.8 C861.8,184.8 863.2,181.7 860.4,180.7 C857.5,179.8 843.5,180.2 840.2,179.1 C836.9,178 837,174.7 836.9,172.9 C836.7,171 838.3,168.1 839.4,166.1 C840.4,164.1 843.3,160.5 844.4,158.6 C845.5,156.7 846.2,153.9 847.3,152.7 C848.3,151.5 851,150.4 852,149.8 C852.9,149.3 853.8,149.4 854,148.5 C854.2,147.6 853,144.8 853.3,143.5 C853.6,142.1 855.2,139.7 856.2,138.8 C857.2,137.9 859,137 860.4,137.1Z" fill="#fff" transform="translate(5.2,-2.6)"/></g>
<path d="M860.4,137.1 C861.8,137.2 865.1,138.3 866.2,139.3 C867.4,140.3 868.3,142.5 868.4,144.3 C868.5,146.1 867,150.3 867.1,151.9 C867.1,153.4 867.4,154.3 868.8,155.2 C870.2,156.2 875.4,156.7 877.2,158.6 C878.9,160.5 880.5,165.1 881.4,168.7 C882.2,172.2 882.6,179.5 883,183.8 C883.4,188 884,195.9 884.2,198.9 C884.5,201.9 885.3,204 884.9,205.3 C884.5,206.5 882.9,207.1 881.4,207.6 C879.8,208.1 875.9,208.9 873.8,208.9 C871.7,209 867.5,207.7 866.2,207.9 C865,208.2 865.1,208.1 864.6,210.6 C864,213.1 862.8,222.7 862.4,225.7 C861.9,228.8 862.6,230.8 861.4,232.5 C860.2,234.1 856.9,236.9 854,237.5 C851.1,238.1 842.4,237.5 840.6,236.8 C838.7,236.2 839.7,234.8 840.9,232.8 C842.1,230.8 848,226.8 849.3,222.7 C850.6,218.6 851.3,206.3 850.3,203.6 C849.3,200.8 843.4,201.5 842.2,203.2 C841.1,204.9 841.6,212.8 841.9,215.7 C842.2,218.6 844.2,222 844.4,224.1 C844.7,226.1 845.3,228.9 843.6,230.1 C841.8,231.3 835.1,232.4 831.8,232.5 C828.6,232.5 821.9,231.4 820.4,230.8 C818.9,230.2 819.6,229.4 821.1,228.1 C822.6,226.8 830,223.8 831,221.5 C832,219.3 829,215.7 828.5,212.3 C828,208.9 827.4,200.1 827.5,197.2 C827.5,194.3 828.1,192.9 828.8,191.8 C829.5,190.7 829.7,189.9 832.7,189.3 C835.7,188.7 846.4,188 850.3,187.5 C854.2,187 859,186.7 860.4,185.8 C861.8,184.8 863.2,181.7 860.4,180.7 C857.5,179.8 843.5,180.2 840.2,179.1 C836.9,178 837,174.7 836.9,172.9 C836.7,171 838.3,168.1 839.4,166.1 C840.4,164.1 843.3,160.5 844.4,158.6 C845.5,156.7 846.2,153.9 847.3,152.7 C848.3,151.5 851,150.4 852,149.8 C852.9,149.3 853.8,149.4 854,148.5 C854.2,147.6 853,144.8 853.3,143.5 C853.6,142.1 855.2,139.7 856.2,138.8 C857.2,137.9 859,137 860.4,137.1Z" fill="#A6102E"/>
<ellipse cx="861.2" cy="146.3" rx="7" ry="8.3" fill="#ecb0b2" opacity="0.9"/>
<path d="M855.3,146 L861.5,147.4 L861.3,149 L855.2,147.6 Z" fill="#7a1226" opacity="0.8"/>
<path d="M856.5,152.5 L861,154 L860,156 L856.8,155 Z" fill="#b7324a" opacity="0.6"/>
<path d="M848,151.8 L852.3,149.4 L855.6,151.3 L856.1,155.6 L852.3,158 L849,156.6 Z" fill="#5c0d1e"/>
<path d="M845.2,155.6 L848.5,157 L852.5,158.5 L852.8,161.3 L848,162 L844.5,160 Z" fill="#eeb4b5" opacity="0.85"/>
<path d="M842,163 L848.5,161.8 L849.3,165.3 L842.5,167 Z" fill="#f3d5d5" opacity="0.9"/>
<path d="M860.6,158.5 L864.2,157.5 L861,170 L859.3,181 L857.3,181 L858.6,168 Z" fill="#efbfc0" opacity="0.85"/>
<path d="M858.9,161.5 L857.6,179" stroke="#7a1226" stroke-width="1.2" fill="none"/>
<path d="M846,190 L855,187.3 L857,190.5 L849,194.5 Z" fill="#e9a5a7" opacity="0.75"/>
<path d="M850.3,203 L852.6,203 L852,228 L849.3,229.5 Z" fill="#5c0d1e" opacity="0.7"/>
</svg>
</body></html>
